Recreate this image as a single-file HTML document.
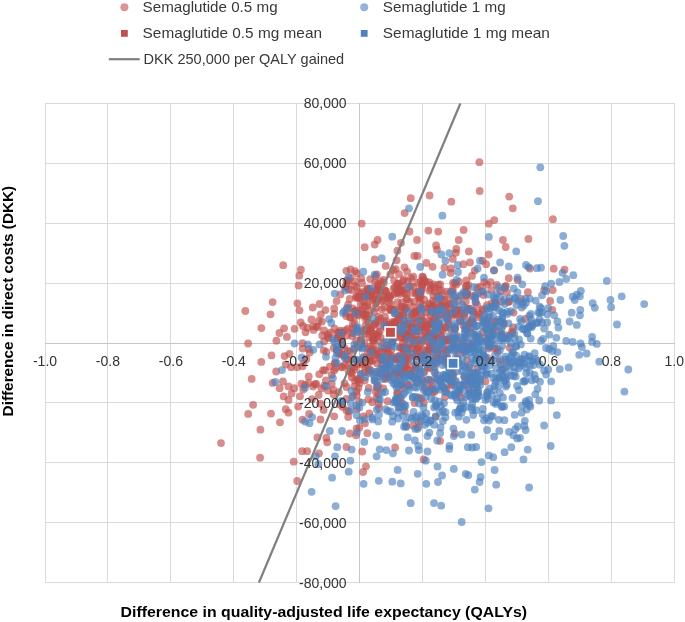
<!DOCTYPE html>
<html><head><meta charset="utf-8"><style>
html,body{margin:0;padding:0;background:#fff;width:685px;height:622px;overflow:hidden}
svg{display:block;font-family:"Liberation Sans",sans-serif;will-change:transform}
.tick{font-size:14px;fill:#333}
.leg{font-size:15px;fill:#383838}
.ttl{font-size:15px;font-weight:bold;fill:#000}
</style></head><body>
<svg width="685" height="622" viewBox="0 0 685 622">
<g stroke="#dadada" stroke-width="1"><line x1="45.5" y1="103" x2="45.5" y2="583"/><line x1="107.5" y1="103" x2="107.5" y2="583"/><line x1="170.5" y1="103" x2="170.5" y2="583"/><line x1="233.5" y1="103" x2="233.5" y2="583"/><line x1="296.5" y1="103" x2="296.5" y2="583"/><line x1="422.5" y1="103" x2="422.5" y2="583"/><line x1="485.5" y1="103" x2="485.5" y2="583"/><line x1="548.5" y1="103" x2="548.5" y2="583"/><line x1="611.5" y1="103" x2="611.5" y2="583"/><line x1="674.5" y1="103" x2="674.5" y2="583"/><line x1="45" y1="103.5" x2="675" y2="103.5"/><line x1="45" y1="163.5" x2="675" y2="163.5"/><line x1="45" y1="223.5" x2="675" y2="223.5"/><line x1="45" y1="283.5" x2="675" y2="283.5"/><line x1="45" y1="402.5" x2="675" y2="402.5"/><line x1="45" y1="462.5" x2="675" y2="462.5"/><line x1="45" y1="522.5" x2="675" y2="522.5"/><line x1="45" y1="582.5" x2="675" y2="582.5"/></g><g stroke="#c6c6c6" stroke-width="1"><line x1="359.5" y1="103" x2="359.5" y2="583"/><line x1="45" y1="343.5" x2="675" y2="343.5"/></g>
<g fill="#c0504d" fill-opacity="0.65"><circle cx="407.0" cy="299.2" r="3.9"/><circle cx="528.4" cy="239.0" r="3.9"/><circle cx="400.3" cy="290.6" r="3.9"/><circle cx="424.4" cy="372.2" r="3.9"/><circle cx="454.8" cy="349.9" r="3.9"/><circle cx="421.7" cy="337.2" r="3.9"/><circle cx="453.4" cy="374.2" r="3.9"/><circle cx="312.0" cy="399.2" r="3.9"/><circle cx="403.1" cy="313.0" r="3.9"/><circle cx="340.4" cy="294.4" r="3.9"/><circle cx="444.6" cy="349.9" r="3.9"/><circle cx="386.1" cy="327.8" r="3.9"/><circle cx="313.0" cy="386.4" r="3.9"/><circle cx="473.1" cy="311.9" r="3.9"/><circle cx="328.1" cy="334.5" r="3.9"/><circle cx="451.0" cy="329.4" r="3.9"/><circle cx="354.8" cy="369.4" r="3.9"/><circle cx="380.7" cy="342.3" r="3.9"/><circle cx="401.2" cy="315.9" r="3.9"/><circle cx="417.5" cy="282.8" r="3.9"/><circle cx="420.3" cy="302.4" r="3.9"/><circle cx="392.0" cy="341.8" r="3.9"/><circle cx="369.3" cy="310.2" r="3.9"/><circle cx="390.4" cy="310.2" r="3.9"/><circle cx="407.9" cy="358.7" r="3.9"/><circle cx="503.6" cy="323.2" r="3.9"/><circle cx="364.7" cy="247.2" r="3.9"/><circle cx="416.3" cy="311.7" r="3.9"/><circle cx="422.4" cy="379.9" r="3.9"/><circle cx="451.0" cy="340.5" r="3.9"/><circle cx="313.5" cy="329.9" r="3.9"/><circle cx="405.7" cy="364.9" r="3.9"/><circle cx="403.8" cy="279.2" r="3.9"/><circle cx="355.4" cy="311.0" r="3.9"/><circle cx="400.0" cy="290.8" r="3.9"/><circle cx="451.3" cy="201.7" r="3.9"/><circle cx="357.4" cy="313.9" r="3.9"/><circle cx="397.6" cy="302.1" r="3.9"/><circle cx="396.6" cy="260.3" r="3.9"/><circle cx="423.7" cy="459.4" r="3.9"/><circle cx="490.6" cy="282.1" r="3.9"/><circle cx="470.4" cy="308.6" r="3.9"/><circle cx="360.8" cy="340.3" r="3.9"/><circle cx="412.9" cy="312.9" r="3.9"/><circle cx="345.0" cy="330.3" r="3.9"/><circle cx="452.1" cy="374.0" r="3.9"/><circle cx="248.1" cy="343.5" r="3.9"/><circle cx="392.1" cy="342.7" r="3.9"/><circle cx="378.9" cy="285.7" r="3.9"/><circle cx="434.8" cy="307.8" r="3.9"/><circle cx="346.9" cy="312.9" r="3.9"/><circle cx="458.7" cy="240.0" r="3.9"/><circle cx="389.9" cy="309.3" r="3.9"/><circle cx="413.0" cy="425.6" r="3.9"/><circle cx="404.3" cy="306.9" r="3.9"/><circle cx="363.8" cy="356.8" r="3.9"/><circle cx="419.4" cy="296.9" r="3.9"/><circle cx="383.9" cy="300.3" r="3.9"/><circle cx="481.9" cy="291.4" r="3.9"/><circle cx="429.5" cy="290.7" r="3.9"/><circle cx="472.0" cy="275.9" r="3.9"/><circle cx="358.0" cy="345.9" r="3.9"/><circle cx="377.3" cy="289.7" r="3.9"/><circle cx="468.9" cy="343.1" r="3.9"/><circle cx="421.4" cy="291.2" r="3.9"/><circle cx="394.9" cy="287.4" r="3.9"/><circle cx="395.5" cy="337.6" r="3.9"/><circle cx="469.7" cy="377.5" r="3.9"/><circle cx="368.3" cy="322.5" r="3.9"/><circle cx="411.9" cy="314.6" r="3.9"/><circle cx="433.0" cy="342.0" r="3.9"/><circle cx="365.0" cy="296.9" r="3.9"/><circle cx="414.5" cy="377.6" r="3.9"/><circle cx="369.1" cy="337.4" r="3.9"/><circle cx="335.2" cy="363.1" r="3.9"/><circle cx="447.5" cy="339.5" r="3.9"/><circle cx="497.0" cy="348.6" r="3.9"/><circle cx="390.3" cy="274.4" r="3.9"/><circle cx="434.1" cy="340.7" r="3.9"/><circle cx="459.4" cy="347.8" r="3.9"/><circle cx="408.3" cy="337.5" r="3.9"/><circle cx="420.7" cy="330.3" r="3.9"/><circle cx="440.8" cy="334.8" r="3.9"/><circle cx="457.1" cy="342.3" r="3.9"/><circle cx="366.4" cy="316.7" r="3.9"/><circle cx="368.4" cy="329.5" r="3.9"/><circle cx="418.2" cy="348.3" r="3.9"/><circle cx="400.2" cy="397.3" r="3.9"/><circle cx="420.8" cy="358.3" r="3.9"/><circle cx="299.5" cy="310.3" r="3.9"/><circle cx="370.8" cy="346.5" r="3.9"/><circle cx="476.6" cy="393.0" r="3.9"/><circle cx="376.0" cy="307.7" r="3.9"/><circle cx="439.1" cy="326.1" r="3.9"/><circle cx="354.8" cy="323.3" r="3.9"/><circle cx="470.0" cy="262.4" r="3.9"/><circle cx="426.4" cy="262.9" r="3.9"/><circle cx="432.6" cy="266.8" r="3.9"/><circle cx="484.1" cy="282.1" r="3.9"/><circle cx="348.0" cy="359.3" r="3.9"/><circle cx="404.3" cy="293.2" r="3.9"/><circle cx="285.8" cy="409.2" r="3.9"/><circle cx="453.2" cy="315.8" r="3.9"/><circle cx="429.6" cy="195.5" r="3.9"/><circle cx="373.9" cy="353.3" r="3.9"/><circle cx="432.6" cy="392.4" r="3.9"/><circle cx="477.0" cy="304.8" r="3.9"/><circle cx="467.8" cy="308.7" r="3.9"/><circle cx="395.1" cy="373.7" r="3.9"/><circle cx="508.4" cy="301.9" r="3.9"/><circle cx="465.1" cy="350.5" r="3.9"/><circle cx="503.7" cy="324.1" r="3.9"/><circle cx="438.2" cy="231.6" r="3.9"/><circle cx="376.0" cy="349.7" r="3.9"/><circle cx="367.9" cy="295.3" r="3.9"/><circle cx="455.2" cy="313.7" r="3.9"/><circle cx="425.3" cy="327.2" r="3.9"/><circle cx="384.8" cy="316.5" r="3.9"/><circle cx="388.7" cy="336.0" r="3.9"/><circle cx="349.9" cy="433.5" r="3.9"/><circle cx="357.5" cy="378.8" r="3.9"/><circle cx="474.7" cy="270.6" r="3.9"/><circle cx="415.4" cy="340.1" r="3.9"/><circle cx="468.5" cy="346.4" r="3.9"/><circle cx="493.6" cy="327.4" r="3.9"/><circle cx="407.9" cy="347.7" r="3.9"/><circle cx="393.1" cy="269.9" r="3.9"/><circle cx="432.6" cy="351.8" r="3.9"/><circle cx="288.5" cy="399.9" r="3.9"/><circle cx="364.4" cy="343.4" r="3.9"/><circle cx="403.8" cy="347.2" r="3.9"/><circle cx="472.1" cy="383.7" r="3.9"/><circle cx="357.9" cy="345.5" r="3.9"/><circle cx="459.7" cy="319.0" r="3.9"/><circle cx="433.7" cy="335.8" r="3.9"/><circle cx="341.7" cy="339.7" r="3.9"/><circle cx="377.1" cy="363.5" r="3.9"/><circle cx="283.2" cy="265.2" r="3.9"/><circle cx="298.1" cy="406.6" r="3.9"/><circle cx="513.1" cy="327.5" r="3.9"/><circle cx="433.4" cy="324.7" r="3.9"/><circle cx="458.4" cy="301.0" r="3.9"/><circle cx="509.2" cy="196.6" r="3.9"/><circle cx="359.7" cy="379.9" r="3.9"/><circle cx="361.4" cy="343.9" r="3.9"/><circle cx="300.7" cy="322.4" r="3.9"/><circle cx="509.8" cy="347.7" r="3.9"/><circle cx="383.6" cy="338.7" r="3.9"/><circle cx="512.8" cy="208.3" r="3.9"/><circle cx="341.3" cy="354.4" r="3.9"/><circle cx="429.1" cy="332.4" r="3.9"/><circle cx="461.3" cy="310.3" r="3.9"/><circle cx="552.7" cy="290.1" r="3.9"/><circle cx="454.4" cy="297.7" r="3.9"/><circle cx="517.6" cy="279.9" r="3.9"/><circle cx="415.9" cy="327.8" r="3.9"/><circle cx="337.7" cy="332.6" r="3.9"/><circle cx="485.1" cy="337.7" r="3.9"/><circle cx="348.1" cy="304.7" r="3.9"/><circle cx="334.7" cy="363.2" r="3.9"/><circle cx="357.0" cy="310.5" r="3.9"/><circle cx="356.0" cy="297.7" r="3.9"/><circle cx="306.4" cy="359.0" r="3.9"/><circle cx="357.4" cy="379.8" r="3.9"/><circle cx="383.2" cy="351.2" r="3.9"/><circle cx="356.9" cy="408.7" r="3.9"/><circle cx="358.6" cy="315.6" r="3.9"/><circle cx="428.0" cy="342.0" r="3.9"/><circle cx="429.8" cy="345.9" r="3.9"/><circle cx="376.8" cy="336.7" r="3.9"/><circle cx="447.4" cy="362.6" r="3.9"/><circle cx="437.2" cy="296.7" r="3.9"/><circle cx="361.5" cy="309.9" r="3.9"/><circle cx="409.3" cy="385.2" r="3.9"/><circle cx="368.5" cy="348.4" r="3.9"/><circle cx="297.2" cy="481.0" r="3.9"/><circle cx="352.7" cy="308.4" r="3.9"/><circle cx="431.7" cy="309.0" r="3.9"/><circle cx="393.7" cy="288.4" r="3.9"/><circle cx="446.3" cy="339.8" r="3.9"/><circle cx="348.7" cy="371.3" r="3.9"/><circle cx="377.6" cy="335.8" r="3.9"/><circle cx="346.4" cy="387.0" r="3.9"/><circle cx="419.0" cy="292.0" r="3.9"/><circle cx="477.0" cy="337.3" r="3.9"/><circle cx="447.4" cy="300.1" r="3.9"/><circle cx="430.7" cy="388.7" r="3.9"/><circle cx="367.5" cy="365.5" r="3.9"/><circle cx="375.7" cy="351.1" r="3.9"/><circle cx="379.6" cy="358.3" r="3.9"/><circle cx="320.5" cy="419.5" r="3.9"/><circle cx="362.5" cy="362.4" r="3.9"/><circle cx="442.6" cy="306.3" r="3.9"/><circle cx="366.6" cy="315.4" r="3.9"/><circle cx="405.2" cy="360.0" r="3.9"/><circle cx="367.4" cy="303.8" r="3.9"/><circle cx="402.1" cy="302.5" r="3.9"/><circle cx="406.2" cy="293.3" r="3.9"/><circle cx="461.0" cy="321.1" r="3.9"/><circle cx="414.7" cy="331.5" r="3.9"/><circle cx="446.5" cy="306.8" r="3.9"/><circle cx="426.5" cy="328.6" r="3.9"/><circle cx="461.1" cy="397.7" r="3.9"/><circle cx="407.7" cy="281.4" r="3.9"/><circle cx="440.1" cy="440.9" r="3.9"/><circle cx="373.1" cy="340.7" r="3.9"/><circle cx="284.1" cy="328.3" r="3.9"/><circle cx="440.9" cy="306.3" r="3.9"/><circle cx="346.6" cy="359.0" r="3.9"/><circle cx="436.0" cy="363.8" r="3.9"/><circle cx="297.4" cy="303.3" r="3.9"/><circle cx="375.1" cy="323.1" r="3.9"/><circle cx="381.7" cy="359.1" r="3.9"/><circle cx="389.3" cy="295.3" r="3.9"/><circle cx="492.6" cy="331.9" r="3.9"/><circle cx="404.7" cy="309.8" r="3.9"/><circle cx="328.0" cy="390.6" r="3.9"/><circle cx="325.9" cy="380.4" r="3.9"/><circle cx="512.4" cy="333.1" r="3.9"/><circle cx="405.4" cy="360.9" r="3.9"/><circle cx="392.9" cy="325.7" r="3.9"/><circle cx="491.4" cy="303.3" r="3.9"/><circle cx="350.2" cy="278.0" r="3.9"/><circle cx="328.9" cy="338.2" r="3.9"/><circle cx="367.3" cy="288.3" r="3.9"/><circle cx="442.5" cy="353.9" r="3.9"/><circle cx="375.2" cy="282.4" r="3.9"/><circle cx="362.0" cy="331.0" r="3.9"/><circle cx="398.0" cy="377.5" r="3.9"/><circle cx="427.8" cy="367.7" r="3.9"/><circle cx="433.1" cy="361.0" r="3.9"/><circle cx="364.8" cy="380.6" r="3.9"/><circle cx="284.6" cy="356.1" r="3.9"/><circle cx="420.7" cy="296.2" r="3.9"/><circle cx="423.5" cy="355.5" r="3.9"/><circle cx="409.5" cy="231.5" r="3.9"/><circle cx="289.5" cy="353.8" r="3.9"/><circle cx="513.6" cy="312.6" r="3.9"/><circle cx="429.2" cy="334.1" r="3.9"/><circle cx="356.1" cy="329.0" r="3.9"/><circle cx="438.2" cy="284.7" r="3.9"/><circle cx="412.1" cy="354.5" r="3.9"/><circle cx="346.2" cy="285.9" r="3.9"/><circle cx="505.7" cy="247.0" r="3.9"/><circle cx="371.0" cy="360.8" r="3.9"/><circle cx="509.1" cy="301.6" r="3.9"/><circle cx="431.9" cy="312.8" r="3.9"/><circle cx="420.7" cy="327.2" r="3.9"/><circle cx="414.0" cy="301.9" r="3.9"/><circle cx="317.4" cy="437.5" r="3.9"/><circle cx="405.0" cy="330.5" r="3.9"/><circle cx="401.7" cy="373.1" r="3.9"/><circle cx="401.9" cy="385.1" r="3.9"/><circle cx="450.8" cy="303.5" r="3.9"/><circle cx="485.5" cy="381.3" r="3.9"/><circle cx="433.0" cy="300.9" r="3.9"/><circle cx="427.6" cy="354.0" r="3.9"/><circle cx="361.7" cy="223.6" r="3.9"/><circle cx="564.5" cy="269.7" r="3.9"/><circle cx="248.2" cy="413.9" r="3.9"/><circle cx="404.6" cy="335.5" r="3.9"/><circle cx="488.4" cy="348.6" r="3.9"/><circle cx="427.8" cy="336.3" r="3.9"/><circle cx="451.3" cy="385.3" r="3.9"/><circle cx="435.7" cy="416.5" r="3.9"/><circle cx="444.1" cy="299.6" r="3.9"/><circle cx="401.0" cy="332.4" r="3.9"/><circle cx="261.4" cy="328.1" r="3.9"/><circle cx="452.8" cy="258.9" r="3.9"/><circle cx="413.5" cy="286.6" r="3.9"/><circle cx="344.3" cy="347.9" r="3.9"/><circle cx="366.2" cy="329.9" r="3.9"/><circle cx="374.7" cy="244.5" r="3.9"/><circle cx="416.2" cy="315.7" r="3.9"/><circle cx="421.7" cy="286.4" r="3.9"/><circle cx="316.2" cy="383.9" r="3.9"/><circle cx="472.1" cy="322.4" r="3.9"/><circle cx="387.0" cy="325.0" r="3.9"/><circle cx="367.4" cy="433.2" r="3.9"/><circle cx="358.9" cy="291.9" r="3.9"/><circle cx="436.1" cy="245.4" r="3.9"/><circle cx="355.0" cy="281.4" r="3.9"/><circle cx="454.5" cy="309.5" r="3.9"/><circle cx="324.1" cy="341.5" r="3.9"/><circle cx="377.0" cy="295.9" r="3.9"/><circle cx="405.7" cy="308.4" r="3.9"/><circle cx="291.6" cy="393.4" r="3.9"/><circle cx="446.4" cy="389.4" r="3.9"/><circle cx="455.9" cy="252.8" r="3.9"/><circle cx="352.0" cy="336.1" r="3.9"/><circle cx="365.5" cy="333.5" r="3.9"/><circle cx="455.2" cy="328.2" r="3.9"/><circle cx="473.1" cy="311.0" r="3.9"/><circle cx="495.9" cy="321.7" r="3.9"/><circle cx="364.3" cy="305.9" r="3.9"/><circle cx="419.8" cy="308.5" r="3.9"/><circle cx="361.2" cy="278.2" r="3.9"/><circle cx="339.0" cy="352.1" r="3.9"/><circle cx="354.8" cy="285.6" r="3.9"/><circle cx="444.8" cy="341.0" r="3.9"/><circle cx="303.6" cy="363.1" r="3.9"/><circle cx="342.7" cy="406.9" r="3.9"/><circle cx="261.3" cy="361.9" r="3.9"/><circle cx="431.9" cy="386.1" r="3.9"/><circle cx="341.4" cy="339.0" r="3.9"/><circle cx="378.8" cy="407.9" r="3.9"/><circle cx="423.9" cy="321.4" r="3.9"/><circle cx="501.7" cy="301.8" r="3.9"/><circle cx="391.9" cy="358.3" r="3.9"/><circle cx="340.2" cy="330.6" r="3.9"/><circle cx="416.1" cy="331.7" r="3.9"/><circle cx="503.3" cy="338.5" r="3.9"/><circle cx="391.1" cy="355.4" r="3.9"/><circle cx="343.0" cy="332.6" r="3.9"/><circle cx="342.0" cy="345.7" r="3.9"/><circle cx="438.3" cy="321.3" r="3.9"/><circle cx="465.5" cy="291.9" r="3.9"/><circle cx="362.2" cy="451.5" r="3.9"/><circle cx="413.2" cy="347.9" r="3.9"/><circle cx="496.4" cy="321.6" r="3.9"/><circle cx="466.4" cy="285.9" r="3.9"/><circle cx="364.0" cy="315.1" r="3.9"/><circle cx="504.4" cy="338.2" r="3.9"/><circle cx="342.4" cy="367.3" r="3.9"/><circle cx="414.3" cy="312.8" r="3.9"/><circle cx="544.1" cy="290.1" r="3.9"/><circle cx="506.9" cy="292.6" r="3.9"/><circle cx="404.5" cy="362.4" r="3.9"/><circle cx="376.9" cy="301.8" r="3.9"/><circle cx="346.5" cy="410.4" r="3.9"/><circle cx="402.7" cy="388.0" r="3.9"/><circle cx="312.8" cy="307.5" r="3.9"/><circle cx="375.6" cy="354.8" r="3.9"/><circle cx="405.3" cy="339.6" r="3.9"/><circle cx="383.3" cy="348.5" r="3.9"/><circle cx="253.1" cy="404.8" r="3.9"/><circle cx="381.1" cy="373.6" r="3.9"/><circle cx="457.8" cy="354.4" r="3.9"/><circle cx="346.7" cy="308.3" r="3.9"/><circle cx="379.7" cy="289.9" r="3.9"/><circle cx="422.5" cy="349.4" r="3.9"/><circle cx="368.1" cy="358.1" r="3.9"/><circle cx="325.4" cy="310.1" r="3.9"/><circle cx="387.4" cy="298.2" r="3.9"/><circle cx="386.5" cy="368.6" r="3.9"/><circle cx="421.8" cy="319.1" r="3.9"/><circle cx="444.4" cy="267.7" r="3.9"/><circle cx="405.1" cy="336.5" r="3.9"/><circle cx="366.9" cy="331.4" r="3.9"/><circle cx="397.4" cy="250.7" r="3.9"/><circle cx="475.4" cy="294.9" r="3.9"/><circle cx="445.2" cy="306.3" r="3.9"/><circle cx="451.0" cy="268.5" r="3.9"/><circle cx="327.2" cy="442.3" r="3.9"/><circle cx="346.4" cy="447.0" r="3.9"/><circle cx="425.7" cy="312.5" r="3.9"/><circle cx="385.7" cy="265.9" r="3.9"/><circle cx="410.9" cy="337.7" r="3.9"/><circle cx="370.5" cy="351.9" r="3.9"/><circle cx="387.2" cy="327.9" r="3.9"/><circle cx="283.7" cy="396.4" r="3.9"/><circle cx="467.7" cy="309.0" r="3.9"/><circle cx="347.9" cy="328.7" r="3.9"/><circle cx="401.4" cy="291.8" r="3.9"/><circle cx="437.2" cy="358.5" r="3.9"/><circle cx="365.2" cy="366.9" r="3.9"/><circle cx="361.8" cy="364.5" r="3.9"/><circle cx="309.7" cy="352.5" r="3.9"/><circle cx="487.2" cy="357.7" r="3.9"/><circle cx="483.4" cy="295.1" r="3.9"/><circle cx="403.9" cy="351.1" r="3.9"/><circle cx="431.3" cy="321.9" r="3.9"/><circle cx="482.6" cy="260.7" r="3.9"/><circle cx="434.3" cy="391.8" r="3.9"/><circle cx="482.5" cy="309.1" r="3.9"/><circle cx="387.3" cy="349.0" r="3.9"/><circle cx="463.6" cy="229.9" r="3.9"/><circle cx="304.9" cy="384.8" r="3.9"/><circle cx="356.6" cy="428.4" r="3.9"/><circle cx="411.2" cy="332.6" r="3.9"/><circle cx="458.2" cy="313.9" r="3.9"/><circle cx="317.8" cy="326.9" r="3.9"/><circle cx="305.5" cy="332.3" r="3.9"/><circle cx="423.0" cy="361.0" r="3.9"/><circle cx="399.9" cy="347.5" r="3.9"/><circle cx="482.8" cy="321.5" r="3.9"/><circle cx="285.8" cy="364.5" r="3.9"/><circle cx="471.1" cy="332.7" r="3.9"/><circle cx="379.6" cy="293.9" r="3.9"/><circle cx="350.1" cy="317.3" r="3.9"/><circle cx="361.4" cy="293.5" r="3.9"/><circle cx="308.7" cy="348.9" r="3.9"/><circle cx="349.7" cy="299.0" r="3.9"/><circle cx="434.8" cy="337.0" r="3.9"/><circle cx="221.0" cy="443.1" r="3.9"/><circle cx="477.2" cy="368.6" r="3.9"/><circle cx="409.4" cy="301.7" r="3.9"/><circle cx="453.9" cy="339.2" r="3.9"/><circle cx="410.5" cy="327.7" r="3.9"/><circle cx="361.4" cy="344.6" r="3.9"/><circle cx="464.5" cy="314.1" r="3.9"/><circle cx="465.9" cy="349.5" r="3.9"/><circle cx="448.6" cy="322.0" r="3.9"/><circle cx="486.1" cy="359.6" r="3.9"/><circle cx="428.9" cy="320.6" r="3.9"/><circle cx="415.9" cy="356.0" r="3.9"/><circle cx="445.3" cy="327.5" r="3.9"/><circle cx="347.8" cy="283.1" r="3.9"/><circle cx="418.5" cy="421.6" r="3.9"/><circle cx="397.1" cy="356.7" r="3.9"/><circle cx="357.6" cy="364.0" r="3.9"/><circle cx="350.2" cy="351.7" r="3.9"/><circle cx="389.0" cy="303.0" r="3.9"/><circle cx="375.0" cy="380.9" r="3.9"/><circle cx="374.9" cy="299.7" r="3.9"/><circle cx="468.9" cy="251.5" r="3.9"/><circle cx="491.1" cy="332.0" r="3.9"/><circle cx="470.8" cy="327.9" r="3.9"/><circle cx="448.3" cy="362.0" r="3.9"/><circle cx="417.6" cy="255.9" r="3.9"/><circle cx="435.0" cy="320.9" r="3.9"/><circle cx="320.8" cy="314.3" r="3.9"/><circle cx="373.5" cy="340.0" r="3.9"/><circle cx="368.2" cy="292.7" r="3.9"/><circle cx="371.6" cy="295.2" r="3.9"/><circle cx="394.6" cy="323.0" r="3.9"/><circle cx="502.9" cy="240.0" r="3.9"/><circle cx="337.0" cy="350.2" r="3.9"/><circle cx="423.5" cy="280.0" r="3.9"/><circle cx="464.2" cy="376.6" r="3.9"/><circle cx="461.6" cy="294.7" r="3.9"/><circle cx="430.3" cy="304.9" r="3.9"/><circle cx="276.4" cy="340.7" r="3.9"/><circle cx="414.4" cy="255.9" r="3.9"/><circle cx="486.8" cy="284.6" r="3.9"/><circle cx="411.2" cy="374.1" r="3.9"/><circle cx="396.9" cy="333.1" r="3.9"/><circle cx="451.2" cy="383.5" r="3.9"/><circle cx="414.6" cy="403.1" r="3.9"/><circle cx="323.6" cy="409.9" r="3.9"/><circle cx="350.6" cy="269.4" r="3.9"/><circle cx="351.0" cy="371.9" r="3.9"/><circle cx="271.0" cy="413.6" r="3.9"/><circle cx="396.5" cy="292.9" r="3.9"/><circle cx="396.7" cy="372.3" r="3.9"/><circle cx="302.6" cy="348.6" r="3.9"/><circle cx="271.5" cy="355.4" r="3.9"/><circle cx="415.3" cy="348.7" r="3.9"/><circle cx="375.7" cy="391.6" r="3.9"/><circle cx="303.2" cy="389.5" r="3.9"/><circle cx="417.0" cy="294.5" r="3.9"/><circle cx="428.5" cy="307.4" r="3.9"/><circle cx="350.5" cy="317.4" r="3.9"/><circle cx="402.3" cy="403.3" r="3.9"/><circle cx="429.3" cy="282.4" r="3.9"/><circle cx="402.9" cy="342.7" r="3.9"/><circle cx="406.2" cy="334.6" r="3.9"/><circle cx="383.8" cy="282.7" r="3.9"/><circle cx="293.7" cy="461.7" r="3.9"/><circle cx="403.3" cy="315.2" r="3.9"/><circle cx="331.7" cy="383.8" r="3.9"/><circle cx="452.8" cy="289.5" r="3.9"/><circle cx="386.3" cy="327.1" r="3.9"/><circle cx="394.2" cy="332.7" r="3.9"/><circle cx="390.9" cy="304.1" r="3.9"/><circle cx="346.3" cy="270.8" r="3.9"/><circle cx="394.1" cy="280.3" r="3.9"/><circle cx="488.8" cy="321.9" r="3.9"/><circle cx="422.3" cy="276.6" r="3.9"/><circle cx="439.5" cy="324.1" r="3.9"/><circle cx="319.0" cy="453.3" r="3.9"/><circle cx="403.8" cy="325.0" r="3.9"/><circle cx="472.0" cy="296.1" r="3.9"/><circle cx="398.7" cy="319.3" r="3.9"/><circle cx="407.1" cy="323.8" r="3.9"/><circle cx="383.5" cy="279.8" r="3.9"/><circle cx="394.1" cy="323.3" r="3.9"/><circle cx="439.2" cy="348.1" r="3.9"/><circle cx="432.3" cy="339.8" r="3.9"/><circle cx="369.3" cy="413.4" r="3.9"/><circle cx="446.4" cy="358.3" r="3.9"/><circle cx="381.5" cy="351.7" r="3.9"/><circle cx="404.6" cy="213.1" r="3.9"/><circle cx="359.2" cy="427.8" r="3.9"/><circle cx="378.3" cy="386.0" r="3.9"/><circle cx="380.3" cy="318.7" r="3.9"/><circle cx="363.1" cy="313.9" r="3.9"/><circle cx="382.0" cy="364.3" r="3.9"/><circle cx="404.7" cy="411.3" r="3.9"/><circle cx="403.1" cy="367.5" r="3.9"/><circle cx="407.1" cy="271.7" r="3.9"/><circle cx="553.7" cy="268.7" r="3.9"/><circle cx="456.6" cy="335.7" r="3.9"/><circle cx="383.3" cy="368.6" r="3.9"/><circle cx="525.6" cy="319.0" r="3.9"/><circle cx="326.3" cy="437.9" r="3.9"/><circle cx="505.1" cy="286.6" r="3.9"/><circle cx="365.9" cy="329.4" r="3.9"/><circle cx="371.2" cy="329.8" r="3.9"/><circle cx="390.0" cy="297.6" r="3.9"/><circle cx="307.4" cy="327.8" r="3.9"/><circle cx="441.3" cy="313.9" r="3.9"/><circle cx="386.4" cy="321.1" r="3.9"/><circle cx="435.9" cy="314.9" r="3.9"/><circle cx="323.8" cy="350.5" r="3.9"/><circle cx="356.8" cy="395.2" r="3.9"/><circle cx="334.2" cy="416.3" r="3.9"/><circle cx="365.7" cy="325.1" r="3.9"/><circle cx="550.2" cy="301.0" r="3.9"/><circle cx="403.0" cy="281.2" r="3.9"/><circle cx="352.9" cy="324.0" r="3.9"/><circle cx="421.3" cy="398.8" r="3.9"/><circle cx="333.7" cy="348.0" r="3.9"/><circle cx="386.2" cy="291.5" r="3.9"/><circle cx="425.3" cy="388.5" r="3.9"/><circle cx="368.7" cy="387.9" r="3.9"/><circle cx="422.7" cy="304.8" r="3.9"/><circle cx="455.1" cy="382.0" r="3.9"/><circle cx="432.8" cy="307.6" r="3.9"/><circle cx="430.8" cy="288.8" r="3.9"/><circle cx="335.7" cy="368.0" r="3.9"/><circle cx="407.4" cy="369.5" r="3.9"/><circle cx="376.9" cy="274.3" r="3.9"/><circle cx="433.5" cy="342.0" r="3.9"/><circle cx="384.9" cy="290.8" r="3.9"/><circle cx="511.9" cy="331.5" r="3.9"/><circle cx="398.4" cy="400.2" r="3.9"/><circle cx="471.9" cy="319.5" r="3.9"/><circle cx="428.4" cy="230.6" r="3.9"/><circle cx="336.9" cy="349.7" r="3.9"/><circle cx="311.4" cy="319.4" r="3.9"/><circle cx="439.5" cy="290.5" r="3.9"/><circle cx="441.9" cy="306.1" r="3.9"/><circle cx="363.3" cy="416.5" r="3.9"/><circle cx="453.0" cy="282.9" r="3.9"/><circle cx="482.9" cy="332.0" r="3.9"/><circle cx="506.8" cy="362.1" r="3.9"/><circle cx="416.5" cy="376.4" r="3.9"/><circle cx="272.6" cy="302.1" r="3.9"/><circle cx="448.0" cy="376.0" r="3.9"/><circle cx="322.0" cy="321.6" r="3.9"/><circle cx="499.9" cy="331.9" r="3.9"/><circle cx="324.3" cy="385.7" r="3.9"/><circle cx="375.5" cy="334.4" r="3.9"/><circle cx="324.1" cy="330.5" r="3.9"/><circle cx="418.0" cy="347.4" r="3.9"/><circle cx="372.0" cy="349.5" r="3.9"/><circle cx="466.3" cy="280.3" r="3.9"/><circle cx="358.9" cy="297.2" r="3.9"/><circle cx="397.1" cy="359.4" r="3.9"/><circle cx="402.3" cy="337.7" r="3.9"/><circle cx="331.6" cy="374.9" r="3.9"/><circle cx="424.3" cy="281.9" r="3.9"/><circle cx="418.0" cy="291.3" r="3.9"/><circle cx="360.6" cy="304.1" r="3.9"/><circle cx="362.7" cy="311.5" r="3.9"/><circle cx="440.4" cy="382.0" r="3.9"/><circle cx="380.8" cy="281.3" r="3.9"/><circle cx="384.8" cy="290.1" r="3.9"/><circle cx="440.2" cy="284.3" r="3.9"/><circle cx="398.7" cy="317.2" r="3.9"/><circle cx="374.0" cy="343.1" r="3.9"/><circle cx="348.5" cy="280.6" r="3.9"/><circle cx="282.9" cy="381.5" r="3.9"/><circle cx="366.0" cy="466.3" r="3.9"/><circle cx="294.6" cy="328.8" r="3.9"/><circle cx="381.0" cy="356.8" r="3.9"/><circle cx="374.7" cy="259.4" r="3.9"/><circle cx="326.3" cy="351.8" r="3.9"/><circle cx="552.3" cy="309.8" r="3.9"/><circle cx="378.0" cy="287.7" r="3.9"/><circle cx="488.2" cy="318.1" r="3.9"/><circle cx="453.6" cy="346.3" r="3.9"/><circle cx="377.6" cy="355.2" r="3.9"/><circle cx="402.4" cy="358.1" r="3.9"/><circle cx="406.6" cy="307.8" r="3.9"/><circle cx="377.8" cy="283.9" r="3.9"/><circle cx="356.1" cy="435.3" r="3.9"/><circle cx="428.1" cy="379.6" r="3.9"/><circle cx="351.7" cy="367.9" r="3.9"/><circle cx="367.7" cy="306.0" r="3.9"/><circle cx="486.1" cy="264.2" r="3.9"/><circle cx="458.9" cy="281.7" r="3.9"/><circle cx="354.9" cy="367.0" r="3.9"/><circle cx="429.8" cy="349.6" r="3.9"/><circle cx="279.7" cy="388.2" r="3.9"/><circle cx="416.5" cy="355.7" r="3.9"/><circle cx="401.8" cy="306.7" r="3.9"/><circle cx="429.2" cy="303.5" r="3.9"/><circle cx="370.3" cy="279.1" r="3.9"/><circle cx="356.8" cy="273.4" r="3.9"/><circle cx="294.3" cy="388.2" r="3.9"/><circle cx="386.8" cy="344.9" r="3.9"/><circle cx="385.3" cy="379.0" r="3.9"/><circle cx="302.1" cy="451.2" r="3.9"/><circle cx="300.9" cy="269.7" r="3.9"/><circle cx="348.6" cy="365.4" r="3.9"/><circle cx="421.5" cy="316.0" r="3.9"/><circle cx="360.9" cy="373.8" r="3.9"/><circle cx="387.5" cy="364.3" r="3.9"/><circle cx="424.8" cy="330.3" r="3.9"/><circle cx="459.0" cy="392.6" r="3.9"/><circle cx="467.1" cy="360.4" r="3.9"/><circle cx="382.0" cy="301.0" r="3.9"/><circle cx="395.5" cy="324.6" r="3.9"/><circle cx="291.1" cy="367.2" r="3.9"/><circle cx="309.1" cy="414.0" r="3.9"/><circle cx="420.9" cy="343.3" r="3.9"/><circle cx="457.3" cy="309.1" r="3.9"/><circle cx="441.0" cy="329.5" r="3.9"/><circle cx="432.9" cy="305.8" r="3.9"/><circle cx="404.1" cy="321.7" r="3.9"/><circle cx="424.2" cy="299.7" r="3.9"/><circle cx="391.5" cy="309.9" r="3.9"/><circle cx="529.9" cy="268.5" r="3.9"/><circle cx="433.8" cy="335.8" r="3.9"/><circle cx="400.6" cy="323.3" r="3.9"/><circle cx="357.7" cy="331.3" r="3.9"/><circle cx="361.0" cy="360.4" r="3.9"/><circle cx="436.4" cy="349.1" r="3.9"/><circle cx="552.9" cy="219.2" r="3.9"/><circle cx="389.5" cy="324.7" r="3.9"/><circle cx="401.1" cy="337.8" r="3.9"/><circle cx="401.4" cy="348.1" r="3.9"/><circle cx="431.8" cy="347.1" r="3.9"/><circle cx="495.6" cy="302.9" r="3.9"/><circle cx="358.5" cy="387.9" r="3.9"/><circle cx="334.2" cy="313.9" r="3.9"/><circle cx="270.5" cy="314.3" r="3.9"/><circle cx="336.5" cy="338.7" r="3.9"/><circle cx="494.0" cy="270.3" r="3.9"/><circle cx="429.8" cy="334.5" r="3.9"/><circle cx="344.5" cy="383.3" r="3.9"/><circle cx="480.1" cy="286.8" r="3.9"/><circle cx="374.1" cy="311.8" r="3.9"/><circle cx="455.6" cy="311.0" r="3.9"/><circle cx="422.7" cy="341.2" r="3.9"/><circle cx="412.0" cy="327.0" r="3.9"/><circle cx="384.2" cy="307.4" r="3.9"/><circle cx="408.8" cy="343.7" r="3.9"/><circle cx="502.3" cy="368.6" r="3.9"/><circle cx="395.4" cy="359.3" r="3.9"/><circle cx="334.4" cy="328.5" r="3.9"/><circle cx="420.9" cy="355.2" r="3.9"/><circle cx="316.3" cy="326.6" r="3.9"/><circle cx="333.5" cy="389.9" r="3.9"/><circle cx="377.6" cy="240.0" r="3.9"/><circle cx="406.2" cy="349.2" r="3.9"/><circle cx="426.3" cy="326.0" r="3.9"/><circle cx="431.8" cy="324.3" r="3.9"/><circle cx="369.9" cy="297.5" r="3.9"/><circle cx="378.5" cy="316.7" r="3.9"/><circle cx="384.9" cy="323.1" r="3.9"/><circle cx="447.2" cy="350.6" r="3.9"/><circle cx="393.7" cy="337.7" r="3.9"/><circle cx="425.6" cy="350.6" r="3.9"/><circle cx="466.5" cy="327.1" r="3.9"/><circle cx="286.9" cy="336.9" r="3.9"/><circle cx="479.7" cy="191.0" r="3.9"/><circle cx="398.4" cy="315.1" r="3.9"/><circle cx="406.7" cy="335.1" r="3.9"/><circle cx="430.1" cy="314.9" r="3.9"/><circle cx="391.2" cy="350.0" r="3.9"/><circle cx="451.2" cy="362.5" r="3.9"/><circle cx="339.1" cy="353.5" r="3.9"/><circle cx="465.9" cy="286.5" r="3.9"/><circle cx="397.2" cy="320.6" r="3.9"/><circle cx="395.6" cy="368.4" r="3.9"/><circle cx="441.4" cy="290.4" r="3.9"/><circle cx="334.2" cy="308.4" r="3.9"/><circle cx="408.9" cy="357.4" r="3.9"/><circle cx="440.0" cy="315.1" r="3.9"/><circle cx="399.6" cy="359.5" r="3.9"/><circle cx="393.8" cy="294.3" r="3.9"/><circle cx="260.1" cy="457.7" r="3.9"/><circle cx="426.6" cy="336.9" r="3.9"/><circle cx="376.9" cy="387.6" r="3.9"/><circle cx="421.6" cy="308.7" r="3.9"/><circle cx="356.8" cy="287.8" r="3.9"/><circle cx="419.2" cy="298.1" r="3.9"/><circle cx="469.3" cy="368.0" r="3.9"/><circle cx="429.1" cy="308.8" r="3.9"/><circle cx="330.5" cy="332.7" r="3.9"/><circle cx="338.8" cy="332.3" r="3.9"/><circle cx="399.1" cy="407.2" r="3.9"/><circle cx="422.5" cy="284.0" r="3.9"/><circle cx="415.5" cy="365.1" r="3.9"/><circle cx="370.0" cy="369.4" r="3.9"/><circle cx="420.5" cy="320.9" r="3.9"/><circle cx="387.4" cy="361.6" r="3.9"/><circle cx="428.0" cy="325.3" r="3.9"/><circle cx="437.7" cy="352.9" r="3.9"/><circle cx="398.4" cy="283.6" r="3.9"/><circle cx="348.9" cy="411.4" r="3.9"/><circle cx="394.6" cy="313.6" r="3.9"/><circle cx="399.0" cy="274.1" r="3.9"/><circle cx="435.6" cy="312.3" r="3.9"/><circle cx="412.8" cy="329.1" r="3.9"/><circle cx="411.5" cy="376.0" r="3.9"/><circle cx="477.9" cy="317.0" r="3.9"/><circle cx="363.1" cy="472.0" r="3.9"/><circle cx="338.8" cy="392.1" r="3.9"/><circle cx="313.1" cy="326.2" r="3.9"/><circle cx="373.3" cy="325.3" r="3.9"/><circle cx="301.4" cy="383.7" r="3.9"/><circle cx="413.3" cy="276.7" r="3.9"/><circle cx="389.0" cy="377.5" r="3.9"/><circle cx="441.5" cy="295.6" r="3.9"/><circle cx="488.1" cy="344.3" r="3.9"/><circle cx="411.1" cy="278.2" r="3.9"/><circle cx="375.4" cy="371.9" r="3.9"/><circle cx="433.1" cy="284.4" r="3.9"/><circle cx="415.8" cy="292.7" r="3.9"/><circle cx="415.7" cy="311.0" r="3.9"/><circle cx="338.5" cy="336.8" r="3.9"/><circle cx="407.1" cy="334.1" r="3.9"/><circle cx="465.8" cy="295.5" r="3.9"/><circle cx="336.6" cy="301.1" r="3.9"/><circle cx="448.4" cy="324.5" r="3.9"/><circle cx="500.6" cy="291.1" r="3.9"/><circle cx="397.2" cy="393.3" r="3.9"/><circle cx="402.3" cy="290.4" r="3.9"/><circle cx="440.3" cy="305.4" r="3.9"/><circle cx="362.0" cy="283.0" r="3.9"/><circle cx="370.2" cy="330.9" r="3.9"/><circle cx="351.8" cy="373.4" r="3.9"/><circle cx="369.3" cy="288.7" r="3.9"/><circle cx="302.5" cy="419.7" r="3.9"/><circle cx="395.1" cy="447.5" r="3.9"/><circle cx="411.2" cy="375.3" r="3.9"/><circle cx="410.7" cy="198.2" r="3.9"/><circle cx="521.2" cy="298.9" r="3.9"/><circle cx="378.3" cy="298.6" r="3.9"/><circle cx="341.6" cy="366.8" r="3.9"/><circle cx="499.8" cy="361.4" r="3.9"/><circle cx="438.6" cy="337.5" r="3.9"/><circle cx="483.0" cy="310.4" r="3.9"/><circle cx="364.2" cy="372.4" r="3.9"/><circle cx="339.9" cy="404.6" r="3.9"/><circle cx="366.1" cy="314.1" r="3.9"/><circle cx="447.2" cy="312.6" r="3.9"/><circle cx="406.4" cy="351.5" r="3.9"/><circle cx="376.1" cy="290.2" r="3.9"/><circle cx="348.7" cy="289.5" r="3.9"/><circle cx="324.9" cy="370.4" r="3.9"/><circle cx="442.7" cy="339.6" r="3.9"/><circle cx="407.7" cy="334.8" r="3.9"/><circle cx="387.6" cy="401.2" r="3.9"/><circle cx="496.8" cy="284.9" r="3.9"/><circle cx="441.1" cy="359.4" r="3.9"/><circle cx="372.2" cy="337.5" r="3.9"/><circle cx="399.8" cy="294.0" r="3.9"/><circle cx="322.3" cy="335.5" r="3.9"/><circle cx="475.7" cy="301.8" r="3.9"/><circle cx="411.2" cy="326.6" r="3.9"/><circle cx="371.5" cy="294.0" r="3.9"/><circle cx="427.7" cy="364.4" r="3.9"/><circle cx="390.1" cy="358.9" r="3.9"/><circle cx="479.4" cy="162.2" r="3.9"/><circle cx="414.6" cy="318.6" r="3.9"/><circle cx="276.2" cy="371.5" r="3.9"/><circle cx="430.6" cy="337.4" r="3.9"/><circle cx="463.2" cy="385.7" r="3.9"/><circle cx="334.3" cy="370.3" r="3.9"/><circle cx="401.4" cy="369.0" r="3.9"/><circle cx="448.9" cy="293.8" r="3.9"/><circle cx="466.4" cy="379.8" r="3.9"/><circle cx="300.0" cy="396.3" r="3.9"/><circle cx="399.3" cy="372.9" r="3.9"/><circle cx="447.1" cy="348.4" r="3.9"/><circle cx="382.2" cy="296.8" r="3.9"/><circle cx="446.2" cy="317.3" r="3.9"/><circle cx="358.0" cy="298.0" r="3.9"/><circle cx="407.0" cy="324.7" r="3.9"/><circle cx="319.6" cy="304.0" r="3.9"/><circle cx="477.2" cy="287.7" r="3.9"/><circle cx="434.9" cy="291.5" r="3.9"/><circle cx="392.8" cy="309.6" r="3.9"/><circle cx="351.5" cy="290.0" r="3.9"/><circle cx="420.2" cy="293.2" r="3.9"/><circle cx="406.1" cy="426.4" r="3.9"/><circle cx="465.0" cy="328.6" r="3.9"/><circle cx="369.4" cy="358.6" r="3.9"/><circle cx="372.8" cy="299.8" r="3.9"/><circle cx="392.8" cy="321.8" r="3.9"/><circle cx="419.1" cy="368.9" r="3.9"/><circle cx="425.8" cy="281.5" r="3.9"/><circle cx="318.7" cy="394.9" r="3.9"/><circle cx="299.3" cy="275.7" r="3.9"/><circle cx="352.2" cy="328.9" r="3.9"/><circle cx="356.4" cy="391.3" r="3.9"/><circle cx="375.6" cy="275.9" r="3.9"/><circle cx="260.4" cy="429.7" r="3.9"/><circle cx="468.5" cy="285.1" r="3.9"/><circle cx="394.3" cy="322.2" r="3.9"/><circle cx="450.7" cy="272.9" r="3.9"/><circle cx="505.9" cy="285.8" r="3.9"/><circle cx="416.5" cy="382.6" r="3.9"/><circle cx="367.6" cy="289.3" r="3.9"/><circle cx="417.0" cy="240.0" r="3.9"/><circle cx="464.5" cy="315.8" r="3.9"/><circle cx="435.1" cy="373.0" r="3.9"/><circle cx="469.0" cy="323.5" r="3.9"/><circle cx="407.9" cy="365.0" r="3.9"/><circle cx="467.3" cy="294.7" r="3.9"/><circle cx="345.0" cy="287.4" r="3.9"/><circle cx="419.2" cy="397.3" r="3.9"/><circle cx="494.3" cy="220.1" r="3.9"/><circle cx="419.4" cy="293.1" r="3.9"/><circle cx="329.8" cy="366.7" r="3.9"/><circle cx="362.2" cy="297.6" r="3.9"/><circle cx="373.8" cy="336.2" r="3.9"/><circle cx="320.3" cy="403.7" r="3.9"/><circle cx="456.2" cy="284.4" r="3.9"/><circle cx="527.9" cy="292.2" r="3.9"/><circle cx="442.9" cy="330.4" r="3.9"/><circle cx="397.0" cy="359.2" r="3.9"/><circle cx="401.6" cy="286.0" r="3.9"/><circle cx="423.6" cy="324.6" r="3.9"/><circle cx="368.3" cy="399.3" r="3.9"/><circle cx="307.2" cy="451.2" r="3.9"/><circle cx="348.2" cy="416.9" r="3.9"/><circle cx="491.2" cy="289.9" r="3.9"/><circle cx="341.1" cy="332.6" r="3.9"/><circle cx="315.0" cy="384.2" r="3.9"/><circle cx="321.4" cy="388.4" r="3.9"/><circle cx="486.9" cy="305.2" r="3.9"/><circle cx="378.8" cy="403.9" r="3.9"/><circle cx="386.6" cy="356.4" r="3.9"/><circle cx="288.5" cy="386.4" r="3.9"/><circle cx="372.4" cy="333.0" r="3.9"/><circle cx="372.9" cy="360.8" r="3.9"/><circle cx="361.1" cy="337.8" r="3.9"/><circle cx="408.5" cy="317.9" r="3.9"/><circle cx="448.0" cy="318.9" r="3.9"/><circle cx="456.3" cy="248.9" r="3.9"/><circle cx="368.4" cy="369.8" r="3.9"/><circle cx="346.5" cy="335.7" r="3.9"/><circle cx="420.1" cy="326.4" r="3.9"/><circle cx="479.2" cy="314.7" r="3.9"/><circle cx="399.1" cy="331.0" r="3.9"/><circle cx="352.4" cy="333.0" r="3.9"/><circle cx="418.3" cy="340.0" r="3.9"/><circle cx="454.7" cy="433.5" r="3.9"/><circle cx="463.3" cy="325.2" r="3.9"/><circle cx="395.7" cy="269.1" r="3.9"/><circle cx="383.2" cy="388.3" r="3.9"/><circle cx="298.6" cy="285.5" r="3.9"/><circle cx="415.7" cy="312.3" r="3.9"/><circle cx="399.5" cy="355.8" r="3.9"/><circle cx="388.2" cy="348.0" r="3.9"/><circle cx="415.9" cy="334.6" r="3.9"/><circle cx="318.7" cy="320.8" r="3.9"/><circle cx="388.4" cy="363.9" r="3.9"/><circle cx="437.1" cy="379.0" r="3.9"/><circle cx="401.0" cy="242.8" r="3.9"/><circle cx="365.2" cy="318.3" r="3.9"/><circle cx="461.8" cy="346.4" r="3.9"/><circle cx="444.9" cy="396.9" r="3.9"/><circle cx="397.4" cy="284.0" r="3.9"/><circle cx="401.7" cy="307.6" r="3.9"/><circle cx="404.3" cy="366.9" r="3.9"/><circle cx="381.9" cy="309.3" r="3.9"/><circle cx="467.4" cy="291.7" r="3.9"/><circle cx="461.0" cy="313.2" r="3.9"/><circle cx="397.5" cy="290.2" r="3.9"/><circle cx="414.4" cy="369.4" r="3.9"/><circle cx="435.9" cy="301.4" r="3.9"/><circle cx="367.8" cy="351.8" r="3.9"/><circle cx="302.5" cy="366.3" r="3.9"/><circle cx="379.7" cy="331.7" r="3.9"/><circle cx="444.4" cy="388.1" r="3.9"/><circle cx="422.8" cy="383.5" r="3.9"/><circle cx="406.7" cy="288.9" r="3.9"/><circle cx="488.7" cy="254.5" r="3.9"/><circle cx="359.0" cy="401.9" r="3.9"/><circle cx="495.0" cy="302.0" r="3.9"/><circle cx="497.7" cy="351.9" r="3.9"/><circle cx="416.1" cy="322.1" r="3.9"/><circle cx="378.9" cy="326.2" r="3.9"/><circle cx="465.9" cy="301.3" r="3.9"/><circle cx="359.5" cy="383.2" r="3.9"/><circle cx="302.5" cy="343.2" r="3.9"/><circle cx="323.1" cy="370.1" r="3.9"/><circle cx="397.6" cy="392.8" r="3.9"/><circle cx="421.4" cy="356.5" r="3.9"/><circle cx="447.7" cy="340.5" r="3.9"/><circle cx="447.3" cy="313.4" r="3.9"/><circle cx="449.0" cy="304.7" r="3.9"/><circle cx="453.0" cy="314.0" r="3.9"/><circle cx="407.2" cy="348.3" r="3.9"/><circle cx="451.1" cy="337.5" r="3.9"/><circle cx="385.9" cy="377.4" r="3.9"/><circle cx="430.5" cy="381.2" r="3.9"/><circle cx="469.0" cy="389.7" r="3.9"/><circle cx="431.6" cy="322.8" r="3.9"/><circle cx="397.0" cy="309.4" r="3.9"/><circle cx="406.5" cy="298.7" r="3.9"/><circle cx="397.3" cy="288.4" r="3.9"/><circle cx="414.1" cy="343.7" r="3.9"/><circle cx="297.2" cy="367.2" r="3.9"/><circle cx="430.2" cy="368.0" r="3.9"/><circle cx="308.6" cy="382.9" r="3.9"/><circle cx="354.4" cy="316.6" r="3.9"/><circle cx="365.0" cy="423.3" r="3.9"/><circle cx="354.3" cy="348.5" r="3.9"/><circle cx="413.7" cy="307.2" r="3.9"/><circle cx="245.3" cy="311.0" r="3.9"/><circle cx="425.4" cy="335.3" r="3.9"/><circle cx="352.9" cy="395.9" r="3.9"/><circle cx="508.8" cy="278.2" r="3.9"/><circle cx="437.0" cy="249.6" r="3.9"/><circle cx="288.5" cy="412.7" r="3.9"/><circle cx="433.7" cy="363.8" r="3.9"/><circle cx="370.0" cy="327.9" r="3.9"/><circle cx="433.3" cy="295.5" r="3.9"/><circle cx="381.1" cy="374.2" r="3.9"/><circle cx="375.1" cy="324.1" r="3.9"/><circle cx="423.1" cy="277.2" r="3.9"/><circle cx="405.3" cy="372.6" r="3.9"/><circle cx="372.3" cy="402.2" r="3.9"/><circle cx="454.5" cy="328.8" r="3.9"/><circle cx="405.7" cy="358.2" r="3.9"/><circle cx="412.3" cy="292.9" r="3.9"/><circle cx="452.2" cy="291.2" r="3.9"/><circle cx="378.5" cy="333.2" r="3.9"/><circle cx="410.6" cy="370.7" r="3.9"/><circle cx="431.2" cy="341.6" r="3.9"/><circle cx="354.9" cy="380.7" r="3.9"/><circle cx="370.4" cy="295.9" r="3.9"/><circle cx="374.8" cy="338.1" r="3.9"/><circle cx="251.7" cy="378.9" r="3.9"/><circle cx="363.8" cy="302.0" r="3.9"/><circle cx="352.2" cy="358.9" r="3.9"/><circle cx="422.5" cy="284.4" r="3.9"/><circle cx="430.2" cy="285.4" r="3.9"/><circle cx="434.3" cy="318.7" r="3.9"/><circle cx="346.4" cy="280.6" r="3.9"/><circle cx="477.6" cy="312.5" r="3.9"/><circle cx="355.0" cy="271.2" r="3.9"/><circle cx="410.5" cy="285.8" r="3.9"/><circle cx="375.3" cy="303.5" r="3.9"/><circle cx="406.7" cy="333.7" r="3.9"/><circle cx="308.7" cy="376.4" r="3.9"/><circle cx="399.3" cy="283.8" r="3.9"/><circle cx="343.7" cy="355.7" r="3.9"/><circle cx="351.8" cy="377.4" r="3.9"/><circle cx="432.5" cy="308.1" r="3.9"/><circle cx="272.7" cy="382.9" r="3.9"/><circle cx="441.5" cy="336.6" r="3.9"/><circle cx="423.8" cy="403.0" r="3.9"/><circle cx="444.7" cy="327.1" r="3.9"/><circle cx="344.4" cy="364.9" r="3.9"/><circle cx="346.3" cy="398.9" r="3.9"/><circle cx="422.1" cy="288.4" r="3.9"/><circle cx="404.5" cy="267.3" r="3.9"/><circle cx="376.1" cy="398.2" r="3.9"/><circle cx="434.5" cy="287.7" r="3.9"/><circle cx="382.1" cy="360.0" r="3.9"/><circle cx="432.4" cy="310.6" r="3.9"/><circle cx="338.2" cy="336.4" r="3.9"/><circle cx="470.7" cy="321.2" r="3.9"/><circle cx="415.8" cy="367.4" r="3.9"/><circle cx="454.8" cy="283.1" r="3.9"/><circle cx="457.9" cy="310.1" r="3.9"/><circle cx="429.0" cy="348.4" r="3.9"/><circle cx="372.5" cy="291.8" r="3.9"/><circle cx="354.3" cy="386.5" r="3.9"/><circle cx="407.6" cy="384.6" r="3.9"/><circle cx="386.8" cy="374.2" r="3.9"/><circle cx="462.8" cy="340.5" r="3.9"/><circle cx="280.0" cy="422.3" r="3.9"/><circle cx="397.7" cy="292.5" r="3.9"/><circle cx="364.4" cy="291.5" r="3.9"/><circle cx="446.9" cy="291.7" r="3.9"/><circle cx="386.7" cy="297.2" r="3.9"/><circle cx="368.7" cy="373.0" r="3.9"/><circle cx="347.9" cy="351.0" r="3.9"/><circle cx="366.5" cy="294.3" r="3.9"/><circle cx="327.7" cy="336.9" r="3.9"/><circle cx="390.1" cy="373.1" r="3.9"/><circle cx="440.9" cy="299.0" r="3.9"/><circle cx="388.5" cy="353.5" r="3.9"/><circle cx="333.6" cy="394.5" r="3.9"/><circle cx="390.2" cy="296.1" r="3.9"/><circle cx="378.3" cy="320.7" r="3.9"/><circle cx="354.5" cy="311.7" r="3.9"/><circle cx="488.8" cy="223.7" r="3.9"/><circle cx="417.0" cy="350.1" r="3.9"/><circle cx="451.0" cy="312.4" r="3.9"/><circle cx="463.3" cy="264.2" r="3.9"/><circle cx="401.8" cy="348.0" r="3.9"/><circle cx="369.9" cy="360.9" r="3.9"/><circle cx="418.3" cy="427.1" r="3.9"/><circle cx="419.5" cy="297.9" r="3.9"/><circle cx="464.2" cy="352.2" r="3.9"/><circle cx="413.3" cy="339.8" r="3.9"/><circle cx="494.3" cy="348.3" r="3.9"/><circle cx="356.2" cy="341.0" r="3.9"/><circle cx="431.7" cy="333.2" r="3.9"/><circle cx="435.3" cy="358.7" r="3.9"/><circle cx="378.4" cy="393.9" r="3.9"/><circle cx="403.2" cy="354.9" r="3.9"/><circle cx="447.1" cy="357.5" r="3.9"/><circle cx="506.7" cy="335.4" r="3.9"/><circle cx="473.4" cy="342.3" r="3.9"/><circle cx="394.2" cy="309.4" r="3.9"/><circle cx="412.9" cy="323.1" r="3.9"/><circle cx="279.4" cy="333.0" r="3.9"/><circle cx="346.1" cy="316.0" r="3.9"/><circle cx="303.0" cy="326.0" r="3.9"/><circle cx="319.3" cy="374.2" r="3.9"/><circle cx="356.3" cy="296.0" r="3.9"/><circle cx="420.6" cy="281.4" r="3.9"/></g><g fill="#4f81bd" fill-opacity="0.65"><circle cx="470.3" cy="391.9" r="3.9"/><circle cx="536.8" cy="322.8" r="3.9"/><circle cx="362.2" cy="402.6" r="3.9"/><circle cx="400.8" cy="363.2" r="3.9"/><circle cx="451.0" cy="377.8" r="3.9"/><circle cx="307.9" cy="344.4" r="3.9"/><circle cx="397.9" cy="412.5" r="3.9"/><circle cx="493.0" cy="339.7" r="3.9"/><circle cx="442.3" cy="343.3" r="3.9"/><circle cx="496.2" cy="367.9" r="3.9"/><circle cx="318.4" cy="464.2" r="3.9"/><circle cx="513.7" cy="288.6" r="3.9"/><circle cx="473.5" cy="335.9" r="3.9"/><circle cx="329.8" cy="431.0" r="3.9"/><circle cx="514.5" cy="372.2" r="3.9"/><circle cx="358.8" cy="331.8" r="3.9"/><circle cx="510.1" cy="366.6" r="3.9"/><circle cx="414.7" cy="387.1" r="3.9"/><circle cx="451.3" cy="291.8" r="3.9"/><circle cx="301.6" cy="357.5" r="3.9"/><circle cx="472.2" cy="357.8" r="3.9"/><circle cx="475.9" cy="372.5" r="3.9"/><circle cx="499.8" cy="392.8" r="3.9"/><circle cx="365.1" cy="377.2" r="3.9"/><circle cx="425.9" cy="396.4" r="3.9"/><circle cx="518.6" cy="368.4" r="3.9"/><circle cx="455.6" cy="357.5" r="3.9"/><circle cx="510.8" cy="375.5" r="3.9"/><circle cx="547.2" cy="314.3" r="3.9"/><circle cx="506.7" cy="373.0" r="3.9"/><circle cx="473.2" cy="415.1" r="3.9"/><circle cx="424.6" cy="382.7" r="3.9"/><circle cx="469.2" cy="348.6" r="3.9"/><circle cx="382.5" cy="360.0" r="3.9"/><circle cx="465.5" cy="325.2" r="3.9"/><circle cx="459.5" cy="389.8" r="3.9"/><circle cx="524.6" cy="381.6" r="3.9"/><circle cx="438.9" cy="310.7" r="3.9"/><circle cx="445.5" cy="412.2" r="3.9"/><circle cx="513.4" cy="435.3" r="3.9"/><circle cx="530.2" cy="360.4" r="3.9"/><circle cx="621.7" cy="296.3" r="3.9"/><circle cx="419.1" cy="403.6" r="3.9"/><circle cx="536.9" cy="268.2" r="3.9"/><circle cx="539.6" cy="319.5" r="3.9"/><circle cx="476.2" cy="447.0" r="3.9"/><circle cx="435.6" cy="416.9" r="3.9"/><circle cx="571.7" cy="312.7" r="3.9"/><circle cx="526.0" cy="302.7" r="3.9"/><circle cx="514.4" cy="333.6" r="3.9"/><circle cx="490.0" cy="308.1" r="3.9"/><circle cx="417.7" cy="473.8" r="3.9"/><circle cx="475.7" cy="296.8" r="3.9"/><circle cx="548.2" cy="308.2" r="3.9"/><circle cx="456.6" cy="280.0" r="3.9"/><circle cx="514.8" cy="298.8" r="3.9"/><circle cx="475.5" cy="398.9" r="3.9"/><circle cx="530.4" cy="406.5" r="3.9"/><circle cx="405.5" cy="347.4" r="3.9"/><circle cx="491.5" cy="360.8" r="3.9"/><circle cx="531.9" cy="380.3" r="3.9"/><circle cx="501.1" cy="321.6" r="3.9"/><circle cx="445.1" cy="374.6" r="3.9"/><circle cx="441.0" cy="378.8" r="3.9"/><circle cx="449.2" cy="314.6" r="3.9"/><circle cx="546.1" cy="348.0" r="3.9"/><circle cx="438.0" cy="482.0" r="3.9"/><circle cx="441.2" cy="309.2" r="3.9"/><circle cx="419.3" cy="321.2" r="3.9"/><circle cx="542.0" cy="322.5" r="3.9"/><circle cx="362.3" cy="348.5" r="3.9"/><circle cx="502.3" cy="317.8" r="3.9"/><circle cx="486.8" cy="395.8" r="3.9"/><circle cx="405.4" cy="422.5" r="3.9"/><circle cx="470.3" cy="373.1" r="3.9"/><circle cx="493.7" cy="306.6" r="3.9"/><circle cx="393.0" cy="416.1" r="3.9"/><circle cx="509.0" cy="431.8" r="3.9"/><circle cx="502.3" cy="406.2" r="3.9"/><circle cx="606.8" cy="280.9" r="3.9"/><circle cx="405.5" cy="405.7" r="3.9"/><circle cx="402.2" cy="328.3" r="3.9"/><circle cx="407.7" cy="311.6" r="3.9"/><circle cx="487.9" cy="329.7" r="3.9"/><circle cx="398.0" cy="418.5" r="3.9"/><circle cx="458.8" cy="416.7" r="3.9"/><circle cx="352.3" cy="397.2" r="3.9"/><circle cx="392.9" cy="453.3" r="3.9"/><circle cx="430.4" cy="335.6" r="3.9"/><circle cx="579.9" cy="296.3" r="3.9"/><circle cx="440.0" cy="360.0" r="3.9"/><circle cx="479.6" cy="482.0" r="3.9"/><circle cx="549.2" cy="349.0" r="3.9"/><circle cx="480.1" cy="381.6" r="3.9"/><circle cx="474.8" cy="489.6" r="3.9"/><circle cx="405.0" cy="392.3" r="3.9"/><circle cx="531.3" cy="319.9" r="3.9"/><circle cx="444.9" cy="391.7" r="3.9"/><circle cx="525.6" cy="298.6" r="3.9"/><circle cx="434.2" cy="349.3" r="3.9"/><circle cx="438.0" cy="329.2" r="3.9"/><circle cx="372.2" cy="417.5" r="3.9"/><circle cx="524.5" cy="354.6" r="3.9"/><circle cx="363.6" cy="483.8" r="3.9"/><circle cx="430.5" cy="420.8" r="3.9"/><circle cx="473.1" cy="350.6" r="3.9"/><circle cx="489.5" cy="337.6" r="3.9"/><circle cx="454.1" cy="384.5" r="3.9"/><circle cx="526.2" cy="367.7" r="3.9"/><circle cx="496.2" cy="484.7" r="3.9"/><circle cx="478.2" cy="392.7" r="3.9"/><circle cx="559.8" cy="369.1" r="3.9"/><circle cx="384.1" cy="356.6" r="3.9"/><circle cx="539.7" cy="306.7" r="3.9"/><circle cx="377.1" cy="386.8" r="3.9"/><circle cx="500.1" cy="296.4" r="3.9"/><circle cx="431.2" cy="398.8" r="3.9"/><circle cx="482.6" cy="414.3" r="3.9"/><circle cx="443.2" cy="374.8" r="3.9"/><circle cx="522.7" cy="329.0" r="3.9"/><circle cx="388.5" cy="436.7" r="3.9"/><circle cx="480.1" cy="379.6" r="3.9"/><circle cx="348.6" cy="276.9" r="3.9"/><circle cx="447.0" cy="356.9" r="3.9"/><circle cx="564.4" cy="245.8" r="3.9"/><circle cx="481.6" cy="341.3" r="3.9"/><circle cx="418.7" cy="331.0" r="3.9"/><circle cx="453.0" cy="377.0" r="3.9"/><circle cx="305.1" cy="421.5" r="3.9"/><circle cx="434.7" cy="400.2" r="3.9"/><circle cx="463.3" cy="342.2" r="3.9"/><circle cx="488.5" cy="508.3" r="3.9"/><circle cx="503.8" cy="369.1" r="3.9"/><circle cx="521.3" cy="359.2" r="3.9"/><circle cx="433.4" cy="342.0" r="3.9"/><circle cx="437.5" cy="466.4" r="3.9"/><circle cx="526.2" cy="372.9" r="3.9"/><circle cx="469.2" cy="371.2" r="3.9"/><circle cx="387.8" cy="345.5" r="3.9"/><circle cx="407.7" cy="437.4" r="3.9"/><circle cx="490.9" cy="324.2" r="3.9"/><circle cx="365.5" cy="296.6" r="3.9"/><circle cx="342.0" cy="431.0" r="3.9"/><circle cx="467.2" cy="294.2" r="3.9"/><circle cx="576.8" cy="294.6" r="3.9"/><circle cx="421.8" cy="378.5" r="3.9"/><circle cx="397.7" cy="370.8" r="3.9"/><circle cx="436.6" cy="361.8" r="3.9"/><circle cx="420.8" cy="420.9" r="3.9"/><circle cx="448.7" cy="367.6" r="3.9"/><circle cx="385.2" cy="365.5" r="3.9"/><circle cx="496.6" cy="304.5" r="3.9"/><circle cx="551.2" cy="283.6" r="3.9"/><circle cx="508.9" cy="358.8" r="3.9"/><circle cx="435.9" cy="330.2" r="3.9"/><circle cx="550.7" cy="446.0" r="3.9"/><circle cx="491.0" cy="340.4" r="3.9"/><circle cx="450.8" cy="370.3" r="3.9"/><circle cx="492.9" cy="334.7" r="3.9"/><circle cx="404.0" cy="426.7" r="3.9"/><circle cx="523.7" cy="305.2" r="3.9"/><circle cx="493.2" cy="457.2" r="3.9"/><circle cx="439.8" cy="412.7" r="3.9"/><circle cx="388.8" cy="375.7" r="3.9"/><circle cx="530.7" cy="338.6" r="3.9"/><circle cx="355.4" cy="359.7" r="3.9"/><circle cx="478.2" cy="349.0" r="3.9"/><circle cx="489.6" cy="311.2" r="3.9"/><circle cx="484.0" cy="420.3" r="3.9"/><circle cx="385.2" cy="391.9" r="3.9"/><circle cx="503.0" cy="313.3" r="3.9"/><circle cx="422.1" cy="311.8" r="3.9"/><circle cx="437.7" cy="375.1" r="3.9"/><circle cx="391.2" cy="380.1" r="3.9"/><circle cx="453.6" cy="345.7" r="3.9"/><circle cx="484.0" cy="277.7" r="3.9"/><circle cx="531.7" cy="323.3" r="3.9"/><circle cx="457.7" cy="265.0" r="3.9"/><circle cx="467.0" cy="337.6" r="3.9"/><circle cx="535.5" cy="379.0" r="3.9"/><circle cx="386.7" cy="339.7" r="3.9"/><circle cx="453.8" cy="436.1" r="3.9"/><circle cx="522.2" cy="359.1" r="3.9"/><circle cx="400.7" cy="483.4" r="3.9"/><circle cx="472.7" cy="381.1" r="3.9"/><circle cx="516.1" cy="355.6" r="3.9"/><circle cx="421.0" cy="308.0" r="3.9"/><circle cx="559.4" cy="282.0" r="3.9"/><circle cx="319.6" cy="344.4" r="3.9"/><circle cx="557.4" cy="352.1" r="3.9"/><circle cx="332.1" cy="477.7" r="3.9"/><circle cx="419.7" cy="369.9" r="3.9"/><circle cx="535.3" cy="394.3" r="3.9"/><circle cx="442.2" cy="386.1" r="3.9"/><circle cx="430.5" cy="363.2" r="3.9"/><circle cx="337.0" cy="349.4" r="3.9"/><circle cx="465.1" cy="329.6" r="3.9"/><circle cx="454.5" cy="302.7" r="3.9"/><circle cx="484.7" cy="363.1" r="3.9"/><circle cx="435.7" cy="352.9" r="3.9"/><circle cx="440.7" cy="343.0" r="3.9"/><circle cx="451.5" cy="343.2" r="3.9"/><circle cx="463.5" cy="343.6" r="3.9"/><circle cx="453.9" cy="346.6" r="3.9"/><circle cx="335.6" cy="506.2" r="3.9"/><circle cx="409.4" cy="417.3" r="3.9"/><circle cx="501.9" cy="407.1" r="3.9"/><circle cx="534.7" cy="353.1" r="3.9"/><circle cx="389.7" cy="365.1" r="3.9"/><circle cx="404.4" cy="405.0" r="3.9"/><circle cx="421.7" cy="414.6" r="3.9"/><circle cx="506.9" cy="311.8" r="3.9"/><circle cx="335.0" cy="456.3" r="3.9"/><circle cx="526.7" cy="409.6" r="3.9"/><circle cx="359.3" cy="407.6" r="3.9"/><circle cx="395.3" cy="384.5" r="3.9"/><circle cx="440.7" cy="360.9" r="3.9"/><circle cx="370.5" cy="371.0" r="3.9"/><circle cx="377.0" cy="381.6" r="3.9"/><circle cx="379.7" cy="449.3" r="3.9"/><circle cx="396.4" cy="397.8" r="3.9"/><circle cx="492.6" cy="335.2" r="3.9"/><circle cx="477.7" cy="268.5" r="3.9"/><circle cx="374.7" cy="274.7" r="3.9"/><circle cx="513.3" cy="353.1" r="3.9"/><circle cx="395.2" cy="402.0" r="3.9"/><circle cx="450.2" cy="367.9" r="3.9"/><circle cx="573.3" cy="275.2" r="3.9"/><circle cx="486.1" cy="325.5" r="3.9"/><circle cx="520.8" cy="344.4" r="3.9"/><circle cx="432.8" cy="343.5" r="3.9"/><circle cx="410.7" cy="503.2" r="3.9"/><circle cx="462.0" cy="349.2" r="3.9"/><circle cx="463.7" cy="291.8" r="3.9"/><circle cx="477.4" cy="358.3" r="3.9"/><circle cx="436.2" cy="327.6" r="3.9"/><circle cx="519.0" cy="339.5" r="3.9"/><circle cx="481.5" cy="462.1" r="3.9"/><circle cx="472.2" cy="403.9" r="3.9"/><circle cx="521.6" cy="412.7" r="3.9"/><circle cx="517.8" cy="426.5" r="3.9"/><circle cx="510.9" cy="311.2" r="3.9"/><circle cx="580.9" cy="290.8" r="3.9"/><circle cx="331.3" cy="322.9" r="3.9"/><circle cx="416.2" cy="368.9" r="3.9"/><circle cx="380.0" cy="399.9" r="3.9"/><circle cx="329.2" cy="319.1" r="3.9"/><circle cx="326.2" cy="386.0" r="3.9"/><circle cx="544.1" cy="370.5" r="3.9"/><circle cx="628.3" cy="369.5" r="3.9"/><circle cx="499.3" cy="430.9" r="3.9"/><circle cx="458.0" cy="272.0" r="3.9"/><circle cx="439.3" cy="297.5" r="3.9"/><circle cx="445.5" cy="378.4" r="3.9"/><circle cx="463.2" cy="402.5" r="3.9"/><circle cx="476.0" cy="336.5" r="3.9"/><circle cx="392.3" cy="236.7" r="3.9"/><circle cx="398.2" cy="385.7" r="3.9"/><circle cx="455.7" cy="364.3" r="3.9"/><circle cx="514.1" cy="367.3" r="3.9"/><circle cx="457.7" cy="358.5" r="3.9"/><circle cx="495.9" cy="403.9" r="3.9"/><circle cx="487.1" cy="321.6" r="3.9"/><circle cx="371.0" cy="288.3" r="3.9"/><circle cx="484.6" cy="314.6" r="3.9"/><circle cx="477.7" cy="395.9" r="3.9"/><circle cx="414.7" cy="378.5" r="3.9"/><circle cx="599.3" cy="361.7" r="3.9"/><circle cx="563.2" cy="236.0" r="3.9"/><circle cx="451.6" cy="348.6" r="3.9"/><circle cx="467.1" cy="331.8" r="3.9"/><circle cx="458.7" cy="363.1" r="3.9"/><circle cx="397.6" cy="469.9" r="3.9"/><circle cx="417.6" cy="428.8" r="3.9"/><circle cx="382.3" cy="392.8" r="3.9"/><circle cx="493.2" cy="360.3" r="3.9"/><circle cx="484.9" cy="357.4" r="3.9"/><circle cx="529.2" cy="400.0" r="3.9"/><circle cx="493.9" cy="390.0" r="3.9"/><circle cx="522.0" cy="405.7" r="3.9"/><circle cx="518.5" cy="300.9" r="3.9"/><circle cx="429.0" cy="379.7" r="3.9"/><circle cx="449.4" cy="445.8" r="3.9"/><circle cx="478.0" cy="293.3" r="3.9"/><circle cx="483.8" cy="321.3" r="3.9"/><circle cx="503.6" cy="337.5" r="3.9"/><circle cx="441.3" cy="338.6" r="3.9"/><circle cx="440.9" cy="405.9" r="3.9"/><circle cx="381.8" cy="346.1" r="3.9"/><circle cx="421.1" cy="340.5" r="3.9"/><circle cx="449.1" cy="336.1" r="3.9"/><circle cx="364.7" cy="419.1" r="3.9"/><circle cx="497.3" cy="402.1" r="3.9"/><circle cx="408.8" cy="287.1" r="3.9"/><circle cx="400.9" cy="398.1" r="3.9"/><circle cx="499.2" cy="377.8" r="3.9"/><circle cx="398.2" cy="366.2" r="3.9"/><circle cx="544.1" cy="328.6" r="3.9"/><circle cx="344.8" cy="358.0" r="3.9"/><circle cx="396.1" cy="399.7" r="3.9"/><circle cx="475.8" cy="384.4" r="3.9"/><circle cx="617.0" cy="324.5" r="3.9"/><circle cx="435.0" cy="331.5" r="3.9"/><circle cx="358.3" cy="327.7" r="3.9"/><circle cx="476.0" cy="379.0" r="3.9"/><circle cx="413.9" cy="331.3" r="3.9"/><circle cx="471.1" cy="348.8" r="3.9"/><circle cx="514.9" cy="297.7" r="3.9"/><circle cx="350.7" cy="403.1" r="3.9"/><circle cx="438.3" cy="299.1" r="3.9"/><circle cx="461.7" cy="522.0" r="3.9"/><circle cx="501.4" cy="333.9" r="3.9"/><circle cx="482.9" cy="343.0" r="3.9"/><circle cx="460.7" cy="405.8" r="3.9"/><circle cx="469.9" cy="364.6" r="3.9"/><circle cx="447.0" cy="319.9" r="3.9"/><circle cx="548.2" cy="369.5" r="3.9"/><circle cx="471.0" cy="393.1" r="3.9"/><circle cx="566.2" cy="340.9" r="3.9"/><circle cx="450.3" cy="380.8" r="3.9"/><circle cx="451.2" cy="363.3" r="3.9"/><circle cx="363.0" cy="357.9" r="3.9"/><circle cx="524.3" cy="363.7" r="3.9"/><circle cx="409.4" cy="320.4" r="3.9"/><circle cx="475.6" cy="353.0" r="3.9"/><circle cx="378.2" cy="421.4" r="3.9"/><circle cx="556.8" cy="415.1" r="3.9"/><circle cx="492.0" cy="326.1" r="3.9"/><circle cx="528.9" cy="356.2" r="3.9"/><circle cx="309.5" cy="423.2" r="3.9"/><circle cx="383.0" cy="379.0" r="3.9"/><circle cx="350.3" cy="460.7" r="3.9"/><circle cx="373.3" cy="374.4" r="3.9"/><circle cx="424.8" cy="424.8" r="3.9"/><circle cx="455.9" cy="381.0" r="3.9"/><circle cx="430.5" cy="420.5" r="3.9"/><circle cx="518.2" cy="326.6" r="3.9"/><circle cx="458.6" cy="362.5" r="3.9"/><circle cx="465.1" cy="381.3" r="3.9"/><circle cx="423.0" cy="416.3" r="3.9"/><circle cx="504.4" cy="420.2" r="3.9"/><circle cx="376.2" cy="435.3" r="3.9"/><circle cx="456.1" cy="397.4" r="3.9"/><circle cx="516.2" cy="345.9" r="3.9"/><circle cx="488.1" cy="294.6" r="3.9"/><circle cx="359.9" cy="420.4" r="3.9"/><circle cx="464.7" cy="374.5" r="3.9"/><circle cx="493.4" cy="334.7" r="3.9"/><circle cx="489.1" cy="337.5" r="3.9"/><circle cx="520.5" cy="365.9" r="3.9"/><circle cx="417.7" cy="380.5" r="3.9"/><circle cx="394.3" cy="371.0" r="3.9"/><circle cx="477.0" cy="342.8" r="3.9"/><circle cx="499.0" cy="310.5" r="3.9"/><circle cx="418.8" cy="450.1" r="3.9"/><circle cx="522.3" cy="302.6" r="3.9"/><circle cx="464.2" cy="385.1" r="3.9"/><circle cx="282.0" cy="370.1" r="3.9"/><circle cx="492.5" cy="306.5" r="3.9"/><circle cx="356.3" cy="405.4" r="3.9"/><circle cx="294.6" cy="343.5" r="3.9"/><circle cx="414.8" cy="440.5" r="3.9"/><circle cx="443.2" cy="380.2" r="3.9"/><circle cx="473.6" cy="323.1" r="3.9"/><circle cx="413.7" cy="361.7" r="3.9"/><circle cx="395.1" cy="313.2" r="3.9"/><circle cx="440.1" cy="433.2" r="3.9"/><circle cx="403.2" cy="394.6" r="3.9"/><circle cx="478.5" cy="336.3" r="3.9"/><circle cx="500.1" cy="359.2" r="3.9"/><circle cx="494.2" cy="344.3" r="3.9"/><circle cx="429.3" cy="432.6" r="3.9"/><circle cx="477.3" cy="373.7" r="3.9"/><circle cx="472.6" cy="343.9" r="3.9"/><circle cx="380.4" cy="369.0" r="3.9"/><circle cx="529.0" cy="326.3" r="3.9"/><circle cx="434.1" cy="323.0" r="3.9"/><circle cx="549.2" cy="334.7" r="3.9"/><circle cx="363.3" cy="271.7" r="3.9"/><circle cx="438.8" cy="389.7" r="3.9"/><circle cx="461.7" cy="412.7" r="3.9"/><circle cx="432.8" cy="311.4" r="3.9"/><circle cx="542.0" cy="312.3" r="3.9"/><circle cx="488.8" cy="455.4" r="3.9"/><circle cx="496.3" cy="326.2" r="3.9"/><circle cx="413.4" cy="341.9" r="3.9"/><circle cx="480.3" cy="385.0" r="3.9"/><circle cx="511.3" cy="447.2" r="3.9"/><circle cx="423.5" cy="407.4" r="3.9"/><circle cx="427.5" cy="436.1" r="3.9"/><circle cx="448.2" cy="349.6" r="3.9"/><circle cx="493.3" cy="378.0" r="3.9"/><circle cx="501.7" cy="336.6" r="3.9"/><circle cx="416.2" cy="416.3" r="3.9"/><circle cx="361.1" cy="374.1" r="3.9"/><circle cx="483.6" cy="323.2" r="3.9"/><circle cx="523.3" cy="381.4" r="3.9"/><circle cx="529.3" cy="315.8" r="3.9"/><circle cx="390.6" cy="362.6" r="3.9"/><circle cx="552.3" cy="351.1" r="3.9"/><circle cx="525.6" cy="430.0" r="3.9"/><circle cx="465.8" cy="406.9" r="3.9"/><circle cx="539.5" cy="312.8" r="3.9"/><circle cx="494.6" cy="470.0" r="3.9"/><circle cx="507.5" cy="313.9" r="3.9"/><circle cx="401.6" cy="384.5" r="3.9"/><circle cx="509.2" cy="335.8" r="3.9"/><circle cx="390.5" cy="411.5" r="3.9"/><circle cx="486.8" cy="372.1" r="3.9"/><circle cx="453.8" cy="468.9" r="3.9"/><circle cx="498.4" cy="287.4" r="3.9"/><circle cx="586.6" cy="353.5" r="3.9"/><circle cx="546.1" cy="374.6" r="3.9"/><circle cx="426.3" cy="419.2" r="3.9"/><circle cx="409.0" cy="208.3" r="3.9"/><circle cx="350.6" cy="410.2" r="3.9"/><circle cx="462.4" cy="358.9" r="3.9"/><circle cx="434.1" cy="329.3" r="3.9"/><circle cx="462.4" cy="365.2" r="3.9"/><circle cx="392.8" cy="341.0" r="3.9"/><circle cx="483.2" cy="291.4" r="3.9"/><circle cx="402.9" cy="415.6" r="3.9"/><circle cx="541.0" cy="340.9" r="3.9"/><circle cx="373.0" cy="318.4" r="3.9"/><circle cx="457.3" cy="345.1" r="3.9"/><circle cx="345.2" cy="290.4" r="3.9"/><circle cx="470.4" cy="396.4" r="3.9"/><circle cx="554.3" cy="315.3" r="3.9"/><circle cx="568.6" cy="367.4" r="3.9"/><circle cx="500.1" cy="321.7" r="3.9"/><circle cx="448.4" cy="379.0" r="3.9"/><circle cx="455.2" cy="295.2" r="3.9"/><circle cx="449.3" cy="253.1" r="3.9"/><circle cx="581.9" cy="347.0" r="3.9"/><circle cx="492.7" cy="416.3" r="3.9"/><circle cx="434.2" cy="424.7" r="3.9"/><circle cx="471.3" cy="434.9" r="3.9"/><circle cx="489.9" cy="347.1" r="3.9"/><circle cx="504.7" cy="304.0" r="3.9"/><circle cx="428.0" cy="422.8" r="3.9"/><circle cx="438.1" cy="322.9" r="3.9"/><circle cx="384.3" cy="325.4" r="3.9"/><circle cx="486.3" cy="329.1" r="3.9"/><circle cx="504.6" cy="452.2" r="3.9"/><circle cx="488.9" cy="346.2" r="3.9"/><circle cx="475.3" cy="359.9" r="3.9"/><circle cx="523.5" cy="459.4" r="3.9"/><circle cx="483.6" cy="355.2" r="3.9"/><circle cx="451.2" cy="380.2" r="3.9"/><circle cx="484.7" cy="320.7" r="3.9"/><circle cx="385.4" cy="371.0" r="3.9"/><circle cx="537.6" cy="388.8" r="3.9"/><circle cx="527.7" cy="449.6" r="3.9"/><circle cx="533.5" cy="365.1" r="3.9"/><circle cx="426.9" cy="392.3" r="3.9"/><circle cx="479.9" cy="260.7" r="3.9"/><circle cx="354.4" cy="344.3" r="3.9"/><circle cx="457.3" cy="400.2" r="3.9"/><circle cx="445.8" cy="375.7" r="3.9"/><circle cx="520.1" cy="318.9" r="3.9"/><circle cx="423.1" cy="363.4" r="3.9"/><circle cx="464.8" cy="351.2" r="3.9"/><circle cx="426.3" cy="413.3" r="3.9"/><circle cx="470.2" cy="378.0" r="3.9"/><circle cx="486.6" cy="374.6" r="3.9"/><circle cx="506.5" cy="339.7" r="3.9"/><circle cx="354.5" cy="333.1" r="3.9"/><circle cx="423.3" cy="371.7" r="3.9"/><circle cx="415.5" cy="379.8" r="3.9"/><circle cx="356.9" cy="360.0" r="3.9"/><circle cx="466.0" cy="348.4" r="3.9"/><circle cx="455.0" cy="394.3" r="3.9"/><circle cx="463.6" cy="366.5" r="3.9"/><circle cx="409.0" cy="450.5" r="3.9"/><circle cx="429.1" cy="391.4" r="3.9"/><circle cx="502.2" cy="346.1" r="3.9"/><circle cx="527.3" cy="333.3" r="3.9"/><circle cx="348.0" cy="307.7" r="3.9"/><circle cx="395.1" cy="312.0" r="3.9"/><circle cx="465.7" cy="473.8" r="3.9"/><circle cx="580.5" cy="343.3" r="3.9"/><circle cx="342.1" cy="401.6" r="3.9"/><circle cx="399.9" cy="379.8" r="3.9"/><circle cx="534.5" cy="374.9" r="3.9"/><circle cx="556.3" cy="337.8" r="3.9"/><circle cx="543.1" cy="338.8" r="3.9"/><circle cx="644.2" cy="304.1" r="3.9"/><circle cx="497.0" cy="398.8" r="3.9"/><circle cx="444.0" cy="403.2" r="3.9"/><circle cx="516.5" cy="305.0" r="3.9"/><circle cx="460.7" cy="296.5" r="3.9"/><circle cx="515.8" cy="376.6" r="3.9"/><circle cx="529.3" cy="404.7" r="3.9"/><circle cx="532.6" cy="325.4" r="3.9"/><circle cx="391.9" cy="357.9" r="3.9"/><circle cx="395.7" cy="399.7" r="3.9"/><circle cx="406.1" cy="426.7" r="3.9"/><circle cx="442.6" cy="274.7" r="3.9"/><circle cx="474.3" cy="334.9" r="3.9"/><circle cx="382.5" cy="368.9" r="3.9"/><circle cx="376.7" cy="409.6" r="3.9"/><circle cx="462.9" cy="408.7" r="3.9"/><circle cx="417.9" cy="376.7" r="3.9"/><circle cx="423.8" cy="390.1" r="3.9"/><circle cx="398.5" cy="407.3" r="3.9"/><circle cx="458.3" cy="389.4" r="3.9"/><circle cx="511.1" cy="362.4" r="3.9"/><circle cx="538.4" cy="312.4" r="3.9"/><circle cx="386.4" cy="450.1" r="3.9"/><circle cx="489.6" cy="388.4" r="3.9"/><circle cx="492.0" cy="395.4" r="3.9"/><circle cx="471.4" cy="343.7" r="3.9"/><circle cx="395.0" cy="346.7" r="3.9"/><circle cx="538.0" cy="201.2" r="3.9"/><circle cx="491.7" cy="373.7" r="3.9"/><circle cx="451.1" cy="394.5" r="3.9"/><circle cx="403.5" cy="359.2" r="3.9"/><circle cx="397.1" cy="402.4" r="3.9"/><circle cx="379.8" cy="372.4" r="3.9"/><circle cx="434.2" cy="371.2" r="3.9"/><circle cx="443.8" cy="356.8" r="3.9"/><circle cx="517.1" cy="385.9" r="3.9"/><circle cx="418.3" cy="445.8" r="3.9"/><circle cx="592.1" cy="336.8" r="3.9"/><circle cx="521.7" cy="307.6" r="3.9"/><circle cx="426.3" cy="483.8" r="3.9"/><circle cx="480.6" cy="477.0" r="3.9"/><circle cx="537.4" cy="361.0" r="3.9"/><circle cx="490.2" cy="345.3" r="3.9"/><circle cx="494.7" cy="385.8" r="3.9"/><circle cx="311.6" cy="491.8" r="3.9"/><circle cx="468.5" cy="395.2" r="3.9"/><circle cx="539.9" cy="364.7" r="3.9"/><circle cx="426.9" cy="364.0" r="3.9"/><circle cx="500.1" cy="262.4" r="3.9"/><circle cx="518.2" cy="361.7" r="3.9"/><circle cx="472.6" cy="317.9" r="3.9"/><circle cx="472.2" cy="447.5" r="3.9"/><circle cx="464.2" cy="307.2" r="3.9"/><circle cx="479.2" cy="395.9" r="3.9"/><circle cx="326.0" cy="356.8" r="3.9"/><circle cx="499.9" cy="335.5" r="3.9"/><circle cx="444.4" cy="377.5" r="3.9"/><circle cx="445.4" cy="260.7" r="3.9"/><circle cx="442.1" cy="475.5" r="3.9"/><circle cx="454.7" cy="395.3" r="3.9"/><circle cx="553.3" cy="346.0" r="3.9"/><circle cx="445.5" cy="417.3" r="3.9"/><circle cx="514.7" cy="338.6" r="3.9"/><circle cx="494.1" cy="436.7" r="3.9"/><circle cx="526.1" cy="403.1" r="3.9"/><circle cx="441.2" cy="505.7" r="3.9"/><circle cx="530.9" cy="313.8" r="3.9"/><circle cx="415.3" cy="396.6" r="3.9"/><circle cx="415.9" cy="418.5" r="3.9"/><circle cx="453.2" cy="295.6" r="3.9"/><circle cx="476.1" cy="410.2" r="3.9"/><circle cx="506.2" cy="359.5" r="3.9"/><circle cx="464.4" cy="377.1" r="3.9"/><circle cx="490.0" cy="317.3" r="3.9"/><circle cx="485.5" cy="399.9" r="3.9"/><circle cx="524.4" cy="425.9" r="3.9"/><circle cx="456.6" cy="338.6" r="3.9"/><circle cx="458.4" cy="391.2" r="3.9"/><circle cx="509.5" cy="298.5" r="3.9"/><circle cx="508.5" cy="323.4" r="3.9"/><circle cx="611.1" cy="307.2" r="3.9"/><circle cx="341.5" cy="400.8" r="3.9"/><circle cx="551.2" cy="381.3" r="3.9"/><circle cx="474.8" cy="374.9" r="3.9"/><circle cx="488.8" cy="336.8" r="3.9"/><circle cx="401.7" cy="363.3" r="3.9"/><circle cx="436.1" cy="406.3" r="3.9"/><circle cx="456.0" cy="389.5" r="3.9"/><circle cx="545.1" cy="286.1" r="3.9"/><circle cx="557.4" cy="321.5" r="3.9"/><circle cx="452.2" cy="365.7" r="3.9"/><circle cx="500.3" cy="338.2" r="3.9"/><circle cx="403.7" cy="407.9" r="3.9"/><circle cx="516.2" cy="251.4" r="3.9"/><circle cx="440.9" cy="345.2" r="3.9"/><circle cx="495.0" cy="327.3" r="3.9"/><circle cx="393.4" cy="383.4" r="3.9"/><circle cx="333.3" cy="339.2" r="3.9"/><circle cx="385.6" cy="409.2" r="3.9"/><circle cx="499.7" cy="378.1" r="3.9"/><circle cx="445.9" cy="363.9" r="3.9"/><circle cx="354.0" cy="349.0" r="3.9"/><circle cx="382.8" cy="357.3" r="3.9"/><circle cx="498.2" cy="319.7" r="3.9"/><circle cx="476.9" cy="384.9" r="3.9"/><circle cx="483.1" cy="369.9" r="3.9"/><circle cx="348.7" cy="471.7" r="3.9"/><circle cx="434.0" cy="503.1" r="3.9"/><circle cx="525.6" cy="380.1" r="3.9"/><circle cx="541.0" cy="267.7" r="3.9"/><circle cx="486.7" cy="339.8" r="3.9"/><circle cx="542.0" cy="295.3" r="3.9"/><circle cx="439.3" cy="381.0" r="3.9"/><circle cx="453.4" cy="428.6" r="3.9"/><circle cx="474.1" cy="380.9" r="3.9"/><circle cx="473.7" cy="287.2" r="3.9"/><circle cx="508.5" cy="337.8" r="3.9"/><circle cx="517.5" cy="292.5" r="3.9"/><circle cx="420.2" cy="267.0" r="3.9"/><circle cx="409.2" cy="386.8" r="3.9"/><circle cx="336.9" cy="346.3" r="3.9"/><circle cx="363.2" cy="347.4" r="3.9"/><circle cx="439.3" cy="401.6" r="3.9"/><circle cx="434.7" cy="367.5" r="3.9"/><circle cx="312.1" cy="417.1" r="3.9"/><circle cx="427.7" cy="338.7" r="3.9"/><circle cx="566.2" cy="278.9" r="3.9"/><circle cx="475.4" cy="373.1" r="3.9"/><circle cx="439.7" cy="323.6" r="3.9"/><circle cx="422.8" cy="387.1" r="3.9"/><circle cx="558.4" cy="327.6" r="3.9"/><circle cx="523.2" cy="361.6" r="3.9"/><circle cx="415.1" cy="378.5" r="3.9"/><circle cx="432.7" cy="389.2" r="3.9"/><circle cx="358.5" cy="347.4" r="3.9"/><circle cx="501.5" cy="330.1" r="3.9"/><circle cx="332.9" cy="378.2" r="3.9"/><circle cx="530.0" cy="365.7" r="3.9"/><circle cx="449.6" cy="327.5" r="3.9"/><circle cx="465.9" cy="367.2" r="3.9"/><circle cx="411.8" cy="418.6" r="3.9"/><circle cx="487.7" cy="333.2" r="3.9"/><circle cx="506.8" cy="365.9" r="3.9"/><circle cx="374.4" cy="380.5" r="3.9"/><circle cx="439.9" cy="310.3" r="3.9"/><circle cx="485.9" cy="329.0" r="3.9"/><circle cx="451.5" cy="350.7" r="3.9"/><circle cx="483.2" cy="357.2" r="3.9"/><circle cx="401.2" cy="406.5" r="3.9"/><circle cx="512.5" cy="397.8" r="3.9"/><circle cx="438.6" cy="345.0" r="3.9"/><circle cx="470.5" cy="352.3" r="3.9"/><circle cx="504.9" cy="377.0" r="3.9"/><circle cx="473.4" cy="390.3" r="3.9"/><circle cx="487.1" cy="430.0" r="3.9"/><circle cx="572.7" cy="296.7" r="3.9"/><circle cx="504.9" cy="380.8" r="3.9"/><circle cx="479.3" cy="360.3" r="3.9"/><circle cx="487.7" cy="398.4" r="3.9"/><circle cx="539.2" cy="400.5" r="3.9"/><circle cx="479.5" cy="339.0" r="3.9"/><circle cx="529.8" cy="372.9" r="3.9"/><circle cx="434.1" cy="407.4" r="3.9"/><circle cx="404.3" cy="376.9" r="3.9"/><circle cx="540.3" cy="167.3" r="3.9"/><circle cx="484.0" cy="317.1" r="3.9"/><circle cx="494.0" cy="270.3" r="3.9"/><circle cx="417.2" cy="382.6" r="3.9"/><circle cx="437.2" cy="440.5" r="3.9"/><circle cx="468.3" cy="475.2" r="3.9"/><circle cx="442.4" cy="215.7" r="3.9"/><circle cx="414.6" cy="328.7" r="3.9"/><circle cx="454.9" cy="326.1" r="3.9"/><circle cx="514.2" cy="362.4" r="3.9"/><circle cx="427.5" cy="451.5" r="3.9"/><circle cx="414.8" cy="377.6" r="3.9"/><circle cx="345.3" cy="355.0" r="3.9"/><circle cx="551.1" cy="400.4" r="3.9"/><circle cx="562.5" cy="272.8" r="3.9"/><circle cx="491.1" cy="415.8" r="3.9"/><circle cx="379.0" cy="414.7" r="3.9"/><circle cx="501.4" cy="370.4" r="3.9"/><circle cx="465.4" cy="337.7" r="3.9"/><circle cx="441.4" cy="254.5" r="3.9"/><circle cx="355.6" cy="313.2" r="3.9"/><circle cx="511.0" cy="343.5" r="3.9"/><circle cx="459.9" cy="321.2" r="3.9"/><circle cx="506.8" cy="384.7" r="3.9"/><circle cx="336.9" cy="363.2" r="3.9"/><circle cx="482.9" cy="350.6" r="3.9"/><circle cx="343.0" cy="313.1" r="3.9"/><circle cx="502.8" cy="325.7" r="3.9"/><circle cx="424.4" cy="353.8" r="3.9"/><circle cx="481.4" cy="375.4" r="3.9"/><circle cx="401.4" cy="332.4" r="3.9"/><circle cx="484.7" cy="366.1" r="3.9"/><circle cx="399.5" cy="327.6" r="3.9"/><circle cx="429.9" cy="359.3" r="3.9"/><circle cx="392.3" cy="481.7" r="3.9"/><circle cx="493.0" cy="316.0" r="3.9"/><circle cx="483.3" cy="326.8" r="3.9"/><circle cx="521.6" cy="321.6" r="3.9"/><circle cx="529.5" cy="357.1" r="3.9"/><circle cx="486.1" cy="374.2" r="3.9"/><circle cx="476.1" cy="343.8" r="3.9"/><circle cx="408.2" cy="378.8" r="3.9"/><circle cx="409.5" cy="375.5" r="3.9"/><circle cx="413.6" cy="412.0" r="3.9"/><circle cx="444.3" cy="386.8" r="3.9"/><circle cx="512.3" cy="351.9" r="3.9"/><circle cx="580.3" cy="309.8" r="3.9"/><circle cx="464.7" cy="390.1" r="3.9"/><circle cx="356.5" cy="328.3" r="3.9"/><circle cx="473.6" cy="328.5" r="3.9"/><circle cx="454.2" cy="334.5" r="3.9"/><circle cx="380.1" cy="376.0" r="3.9"/><circle cx="493.6" cy="402.6" r="3.9"/><circle cx="495.5" cy="381.9" r="3.9"/><circle cx="451.6" cy="395.7" r="3.9"/><circle cx="596.8" cy="343.9" r="3.9"/><circle cx="457.3" cy="371.3" r="3.9"/><circle cx="487.0" cy="393.4" r="3.9"/><circle cx="449.4" cy="448.9" r="3.9"/><circle cx="472.4" cy="410.1" r="3.9"/><circle cx="367.7" cy="391.9" r="3.9"/><circle cx="493.8" cy="296.7" r="3.9"/><circle cx="396.6" cy="387.7" r="3.9"/><circle cx="515.2" cy="429.2" r="3.9"/><circle cx="454.4" cy="338.2" r="3.9"/><circle cx="592.1" cy="341.9" r="3.9"/><circle cx="466.4" cy="419.8" r="3.9"/><circle cx="460.5" cy="385.4" r="3.9"/><circle cx="413.4" cy="353.9" r="3.9"/><circle cx="412.7" cy="397.4" r="3.9"/><circle cx="429.5" cy="363.6" r="3.9"/><circle cx="513.6" cy="376.0" r="3.9"/><circle cx="455.2" cy="412.7" r="3.9"/><circle cx="461.7" cy="434.4" r="3.9"/><circle cx="412.8" cy="397.0" r="3.9"/><circle cx="523.9" cy="329.1" r="3.9"/><circle cx="471.9" cy="398.5" r="3.9"/><circle cx="474.5" cy="363.3" r="3.9"/><circle cx="435.8" cy="326.1" r="3.9"/><circle cx="527.2" cy="333.3" r="3.9"/><circle cx="502.9" cy="397.4" r="3.9"/><circle cx="466.5" cy="329.9" r="3.9"/><circle cx="517.6" cy="277.7" r="3.9"/><circle cx="464.5" cy="333.4" r="3.9"/><circle cx="431.6" cy="311.2" r="3.9"/><circle cx="315.8" cy="456.3" r="3.9"/><circle cx="502.2" cy="375.4" r="3.9"/><circle cx="390.9" cy="365.2" r="3.9"/><circle cx="432.8" cy="362.1" r="3.9"/><circle cx="396.5" cy="380.9" r="3.9"/><circle cx="594.8" cy="307.8" r="3.9"/><circle cx="505.6" cy="356.7" r="3.9"/><circle cx="313.3" cy="349.8" r="3.9"/><circle cx="495.4" cy="307.7" r="3.9"/><circle cx="473.4" cy="346.0" r="3.9"/><circle cx="445.0" cy="317.7" r="3.9"/><circle cx="472.3" cy="374.0" r="3.9"/><circle cx="275.3" cy="382.0" r="3.9"/><circle cx="390.3" cy="370.2" r="3.9"/><circle cx="519.0" cy="390.1" r="3.9"/><circle cx="482.8" cy="408.9" r="3.9"/><circle cx="377.2" cy="371.7" r="3.9"/><circle cx="403.3" cy="320.5" r="3.9"/><circle cx="460.3" cy="408.6" r="3.9"/><circle cx="610.5" cy="300.0" r="3.9"/><circle cx="576.8" cy="324.9" r="3.9"/><circle cx="452.7" cy="366.3" r="3.9"/><circle cx="415.3" cy="428.9" r="3.9"/><circle cx="540.0" cy="381.7" r="3.9"/><circle cx="381.7" cy="258.2" r="3.9"/><circle cx="524.8" cy="420.8" r="3.9"/><circle cx="499.2" cy="373.2" r="3.9"/><circle cx="356.9" cy="432.6" r="3.9"/><circle cx="546.1" cy="291.2" r="3.9"/><circle cx="378.8" cy="480.8" r="3.9"/><circle cx="417.8" cy="398.2" r="3.9"/><circle cx="416.4" cy="387.7" r="3.9"/><circle cx="455.0" cy="366.8" r="3.9"/><circle cx="434.8" cy="378.3" r="3.9"/><circle cx="486.7" cy="418.3" r="3.9"/><circle cx="442.9" cy="421.0" r="3.9"/><circle cx="541.0" cy="308.2" r="3.9"/><circle cx="449.9" cy="380.8" r="3.9"/><circle cx="508.8" cy="266.4" r="3.9"/><circle cx="440.6" cy="427.5" r="3.9"/><circle cx="574.7" cy="300.0" r="3.9"/><circle cx="529.7" cy="298.7" r="3.9"/><circle cx="344.1" cy="311.2" r="3.9"/><circle cx="436.8" cy="381.7" r="3.9"/><circle cx="386.8" cy="364.3" r="3.9"/><circle cx="488.4" cy="341.3" r="3.9"/><circle cx="463.9" cy="312.5" r="3.9"/><circle cx="498.6" cy="386.0" r="3.9"/><circle cx="624.4" cy="391.6" r="3.9"/><circle cx="522.3" cy="284.3" r="3.9"/><circle cx="341.5" cy="344.3" r="3.9"/><circle cx="437.3" cy="315.8" r="3.9"/><circle cx="439.6" cy="351.6" r="3.9"/><circle cx="423.7" cy="357.4" r="3.9"/><circle cx="516.2" cy="346.5" r="3.9"/><circle cx="544.1" cy="425.5" r="3.9"/><circle cx="465.3" cy="397.1" r="3.9"/><circle cx="528.5" cy="267.1" r="3.9"/><circle cx="498.9" cy="419.8" r="3.9"/><circle cx="469.2" cy="381.1" r="3.9"/><circle cx="476.8" cy="326.0" r="3.9"/><circle cx="520.0" cy="437.8" r="3.9"/><circle cx="429.8" cy="357.5" r="3.9"/><circle cx="336.7" cy="352.9" r="3.9"/><circle cx="464.9" cy="336.1" r="3.9"/><circle cx="453.7" cy="305.2" r="3.9"/><circle cx="504.2" cy="406.4" r="3.9"/><circle cx="392.2" cy="421.7" r="3.9"/><circle cx="411.1" cy="374.1" r="3.9"/><circle cx="476.7" cy="326.0" r="3.9"/><circle cx="514.7" cy="414.8" r="3.9"/><circle cx="351.7" cy="449.6" r="3.9"/><circle cx="464.6" cy="321.7" r="3.9"/><circle cx="334.7" cy="293.6" r="3.9"/><circle cx="445.8" cy="391.9" r="3.9"/><circle cx="529.1" cy="487.5" r="3.9"/><circle cx="378.7" cy="399.1" r="3.9"/><circle cx="511.7" cy="355.4" r="3.9"/><circle cx="335.5" cy="358.0" r="3.9"/><circle cx="449.6" cy="370.8" r="3.9"/><circle cx="481.1" cy="365.7" r="3.9"/><circle cx="502.2" cy="319.1" r="3.9"/><circle cx="404.2" cy="327.5" r="3.9"/><circle cx="487.5" cy="391.8" r="3.9"/><circle cx="407.2" cy="351.3" r="3.9"/><circle cx="441.6" cy="386.7" r="3.9"/><circle cx="525.8" cy="401.2" r="3.9"/><circle cx="427.2" cy="392.0" r="3.9"/><circle cx="504.2" cy="300.0" r="3.9"/><circle cx="506.4" cy="379.4" r="3.9"/><circle cx="470.1" cy="310.1" r="3.9"/><circle cx="476.4" cy="398.2" r="3.9"/><circle cx="398.9" cy="367.8" r="3.9"/><circle cx="479.4" cy="378.3" r="3.9"/><circle cx="467.8" cy="447.2" r="3.9"/><circle cx="403.6" cy="374.2" r="3.9"/><circle cx="385.5" cy="369.3" r="3.9"/><circle cx="334.5" cy="342.1" r="3.9"/><circle cx="500.5" cy="364.5" r="3.9"/><circle cx="478.6" cy="342.3" r="3.9"/><circle cx="409.0" cy="389.9" r="3.9"/><circle cx="483.7" cy="356.0" r="3.9"/><circle cx="458.1" cy="411.8" r="3.9"/><circle cx="535.6" cy="358.8" r="3.9"/><circle cx="442.9" cy="310.1" r="3.9"/><circle cx="454.7" cy="338.5" r="3.9"/><circle cx="393.6" cy="402.4" r="3.9"/><circle cx="537.5" cy="322.9" r="3.9"/><circle cx="392.2" cy="344.4" r="3.9"/><circle cx="337.3" cy="447.2" r="3.9"/><circle cx="476.8" cy="357.3" r="3.9"/><circle cx="471.1" cy="310.9" r="3.9"/><circle cx="402.1" cy="383.4" r="3.9"/><circle cx="514.5" cy="361.2" r="3.9"/><circle cx="505.9" cy="386.6" r="3.9"/><circle cx="496.7" cy="378.7" r="3.9"/><circle cx="529.7" cy="326.5" r="3.9"/><circle cx="466.1" cy="354.3" r="3.9"/><circle cx="461.1" cy="384.6" r="3.9"/><circle cx="476.8" cy="387.8" r="3.9"/><circle cx="419.8" cy="373.4" r="3.9"/><circle cx="461.8" cy="371.0" r="3.9"/><circle cx="525.6" cy="329.1" r="3.9"/><circle cx="457.8" cy="348.7" r="3.9"/><circle cx="442.9" cy="411.0" r="3.9"/><circle cx="451.6" cy="381.3" r="3.9"/><circle cx="453.9" cy="310.4" r="3.9"/><circle cx="478.2" cy="390.2" r="3.9"/><circle cx="569.6" cy="321.5" r="3.9"/><circle cx="405.0" cy="377.3" r="3.9"/><circle cx="535.7" cy="300.6" r="3.9"/><circle cx="494.6" cy="298.8" r="3.9"/><circle cx="376.6" cy="456.3" r="3.9"/><circle cx="526.0" cy="265.0" r="3.9"/><circle cx="469.0" cy="379.6" r="3.9"/><circle cx="486.9" cy="308.2" r="3.9"/><circle cx="455.3" cy="323.3" r="3.9"/><circle cx="488.9" cy="420.6" r="3.9"/><circle cx="305.1" cy="387.7" r="3.9"/><circle cx="464.1" cy="346.9" r="3.9"/><circle cx="579.2" cy="354.8" r="3.9"/><circle cx="387.8" cy="410.9" r="3.9"/><circle cx="471.5" cy="407.4" r="3.9"/><circle cx="475.5" cy="383.7" r="3.9"/><circle cx="500.4" cy="340.0" r="3.9"/><circle cx="531.5" cy="327.3" r="3.9"/><circle cx="399.4" cy="356.2" r="3.9"/><circle cx="371.2" cy="352.6" r="3.9"/><circle cx="504.5" cy="380.9" r="3.9"/><circle cx="408.2" cy="338.9" r="3.9"/><circle cx="442.6" cy="365.0" r="3.9"/><circle cx="572.7" cy="341.9" r="3.9"/><circle cx="356.6" cy="415.2" r="3.9"/><circle cx="499.8" cy="350.5" r="3.9"/><circle cx="490.1" cy="344.5" r="3.9"/><circle cx="520.3" cy="363.1" r="3.9"/><circle cx="458.0" cy="350.0" r="3.9"/><circle cx="480.7" cy="349.6" r="3.9"/><circle cx="420.2" cy="291.8" r="3.9"/><circle cx="460.9" cy="337.7" r="3.9"/><circle cx="469.7" cy="384.2" r="3.9"/><circle cx="374.7" cy="378.0" r="3.9"/><circle cx="475.5" cy="302.5" r="3.9"/><circle cx="478.4" cy="351.3" r="3.9"/><circle cx="496.4" cy="294.4" r="3.9"/><circle cx="474.7" cy="297.8" r="3.9"/><circle cx="341.1" cy="333.3" r="3.9"/><circle cx="502.2" cy="312.1" r="3.9"/><circle cx="528.7" cy="326.9" r="3.9"/><circle cx="503.2" cy="338.2" r="3.9"/><circle cx="372.6" cy="419.4" r="3.9"/><circle cx="436.1" cy="405.0" r="3.9"/><circle cx="504.5" cy="288.0" r="3.9"/><circle cx="454.9" cy="329.1" r="3.9"/><circle cx="361.2" cy="341.7" r="3.9"/><circle cx="517.2" cy="438.4" r="3.9"/><circle cx="495.0" cy="355.0" r="3.9"/><circle cx="351.3" cy="390.8" r="3.9"/><circle cx="364.3" cy="441.9" r="3.9"/><circle cx="560.4" cy="300.0" r="3.9"/><circle cx="488.8" cy="236.9" r="3.9"/><circle cx="471.3" cy="384.2" r="3.9"/><circle cx="482.0" cy="366.4" r="3.9"/><circle cx="425.8" cy="460.7" r="3.9"/><circle cx="473.9" cy="347.0" r="3.9"/><circle cx="420.8" cy="358.4" r="3.9"/><circle cx="592.7" cy="303.1" r="3.9"/><circle cx="579.9" cy="315.3" r="3.9"/><circle cx="459.8" cy="409.1" r="3.9"/><circle cx="489.5" cy="365.2" r="3.9"/><circle cx="436.2" cy="388.8" r="3.9"/><circle cx="462.2" cy="304.3" r="3.9"/><circle cx="547.2" cy="322.5" r="3.9"/><circle cx="532.7" cy="360.8" r="3.9"/><circle cx="478.3" cy="334.4" r="3.9"/><circle cx="393.6" cy="378.0" r="3.9"/></g><rect x="385.1" y="327" width="10.6" height="10.6" fill="#c0504d" stroke="#fff" stroke-width="1.6"/><rect x="447.9" y="358.1" width="10.4" height="10.4" fill="#4f81bd" stroke="#fff" stroke-width="1.6"/>
<line x1="258.96" y1="582.50" x2="460.34" y2="103.50" stroke="#7f7f7f" stroke-width="2.2"/>
<g class="tick"><text x="346.5" y="108.30" text-anchor="end">80,000</text><text x="346.5" y="168.30" text-anchor="end">60,000</text><text x="346.5" y="228.29" text-anchor="end">40,000</text><text x="346.5" y="288.29" text-anchor="end">20,000</text><text x="346.5" y="348.28" text-anchor="end">0</text><text x="346.5" y="408.28" text-anchor="end">-20,000</text><text x="346.5" y="468.27" text-anchor="end">-40,000</text><text x="346.5" y="528.26" text-anchor="end">-60,000</text><text x="346.5" y="588.26" text-anchor="end">-80,000</text><text x="45.00" y="366" text-anchor="middle">-1.0</text><text x="107.93" y="366" text-anchor="middle">-0.8</text><text x="170.86" y="366" text-anchor="middle">-0.6</text><text x="233.79" y="366" text-anchor="middle">-0.4</text><text x="296.72" y="366" text-anchor="middle">-0.2</text><text x="359.65" y="366" text-anchor="middle">0.0</text><text x="422.58" y="366" text-anchor="middle">0.2</text><text x="485.51" y="366" text-anchor="middle">0.4</text><text x="548.44" y="366" text-anchor="middle">0.6</text><text x="611.37" y="366" text-anchor="middle">0.8</text><text x="674.30" y="366" text-anchor="middle">1.0</text></g>
<g class="leg">
<circle cx="124.4" cy="7.3" r="4" fill="#c0504d" fill-opacity="0.6"/>
<text x="142.6" y="12.1" textLength="135" lengthAdjust="spacingAndGlyphs">Semaglutide 0.5 mg</text>
<rect x="121" y="30" width="6.8" height="6.8" fill="#c0504d"/>
<text x="142.6" y="37.8" textLength="179.4" lengthAdjust="spacingAndGlyphs">Semaglutide 0.5 mg mean</text>
<line x1="108.8" y1="59.2" x2="139.7" y2="59.2" stroke="#7f7f7f" stroke-width="2.2"/>
<text x="143.5" y="63.5" textLength="200.7" lengthAdjust="spacingAndGlyphs">DKK 250,000 per QALY gained</text>
<circle cx="364.2" cy="7.3" r="4" fill="#4f81bd" fill-opacity="0.6"/>
<text x="382.8" y="12.1" textLength="122.9" lengthAdjust="spacingAndGlyphs">Semaglutide 1 mg</text>
<rect x="360.8" y="30" width="6.8" height="6.8" fill="#4f81bd"/>
<text x="382.8" y="37.8" textLength="167.1" lengthAdjust="spacingAndGlyphs">Semaglutide 1 mg mean</text>
</g>
<text class="ttl" x="120.6" y="616.8" textLength="406.5" lengthAdjust="spacingAndGlyphs">Difference in quality-adjusted life expectancy (QALYs)</text>
<text class="ttl" transform="translate(13.2,416.4) rotate(-90)" x="0" y="0" textLength="230.6" lengthAdjust="spacingAndGlyphs">Difference in direct costs (DKK)</text>
</svg>
</body></html>
